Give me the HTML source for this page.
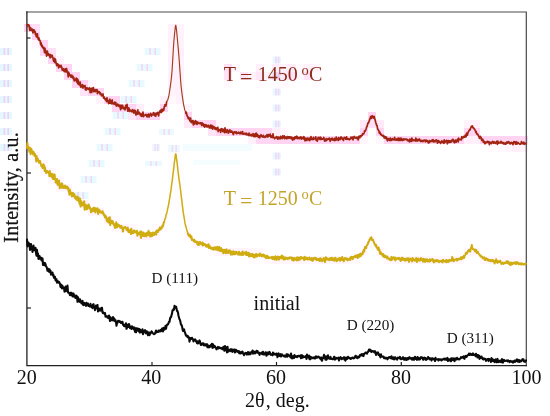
<!DOCTYPE html>
<html><head><meta charset="utf-8"><title>XRD patterns</title>
<style>
html,body{margin:0;padding:0;background:#fff;}
body{width:550px;height:416px;overflow:hidden;}
svg{display:block;}
text{font-family:"Liberation Serif","Times New Roman",serif;fill:#111;}
</style></head><body>
<svg width="550" height="416" viewBox="0 0 550 416">
<rect x="0" y="0" width="550" height="416" fill="#ffffff"/>
<!-- chroma halo -->
<clipPath id="cp"><rect x="27" y="12" width="499.3" height="353.6"/></clipPath>
<g shape-rendering="crispEdges"><rect x="24" y="24" width="8" height="8" fill="#ffd4f2" fill-opacity="1.00"/><rect x="32" y="24" width="8" height="8" fill="#ffd4f2" fill-opacity="0.74"/><rect x="168" y="24" width="8" height="8" fill="#ffd4f2" fill-opacity="0.32"/><rect x="176" y="24" width="8" height="8" fill="#ffd4f2" fill-opacity="0.25"/><rect x="32" y="32" width="8" height="8" fill="#ffd4f2" fill-opacity="1.00"/><rect x="168" y="32" width="8" height="8" fill="#ffd4f2" fill-opacity="0.35"/><rect x="176" y="32" width="8" height="8" fill="#ffd4f2" fill-opacity="0.29"/><rect x="32" y="40" width="8" height="8" fill="#ffd4f2" fill-opacity="0.19"/><rect x="40" y="40" width="8" height="8" fill="#ffd4f2" fill-opacity="1.00"/><rect x="168" y="40" width="8" height="8" fill="#ffd4f2" fill-opacity="0.35"/><rect x="176" y="40" width="8" height="8" fill="#ffd4f2" fill-opacity="0.31"/><rect x="40" y="48" width="8" height="8" fill="#ffd4f2" fill-opacity="1.00"/><rect x="48" y="48" width="8" height="8" fill="#ffd4f2" fill-opacity="0.74"/><rect x="168" y="48" width="8" height="8" fill="#ffd4f2" fill-opacity="0.28"/><rect x="176" y="48" width="8" height="8" fill="#ffd4f2" fill-opacity="0.37"/><rect x="40" y="56" width="8" height="8" fill="#ffd4f2" fill-opacity="0.07"/><rect x="48" y="56" width="8" height="8" fill="#ffd4f2" fill-opacity="1.00"/><rect x="56" y="56" width="8" height="8" fill="#ffd4f2" fill-opacity="0.27"/><rect x="168" y="56" width="8" height="8" fill="#ffd4f2" fill-opacity="0.34"/><rect x="176" y="56" width="8" height="8" fill="#ffd4f2" fill-opacity="0.29"/><rect x="56" y="64" width="8" height="8" fill="#ffd4f2" fill-opacity="1.00"/><rect x="64" y="64" width="8" height="8" fill="#ffd4f2" fill-opacity="1.00"/><rect x="168" y="64" width="8" height="8" fill="#ffd4f2" fill-opacity="0.31"/><rect x="176" y="64" width="8" height="8" fill="#ffd4f2" fill-opacity="0.33"/><rect x="224" y="64" width="8" height="8" fill="#ffd4f2" fill-opacity="0.75"/><rect x="232" y="64" width="8" height="8" fill="#ffd4f2" fill-opacity="0.19"/><rect x="256" y="64" width="8" height="8" fill="#ffd4f2" fill-opacity="0.36"/><rect x="272" y="64" width="8" height="8" fill="#ffd4f2" fill-opacity="0.45"/><rect x="280" y="64" width="8" height="8" fill="#ffd4f2" fill-opacity="0.32"/><rect x="288" y="64" width="8" height="8" fill="#ffd4f2" fill-opacity="0.45"/><rect x="296" y="64" width="8" height="8" fill="#ffd4f2" fill-opacity="0.13"/><rect x="304" y="64" width="8" height="8" fill="#ffd4f2" fill-opacity="0.32"/><rect x="312" y="64" width="8" height="8" fill="#ffd4f2" fill-opacity="0.25"/><rect x="320" y="64" width="8" height="8" fill="#ffd4f2" fill-opacity="0.08"/><rect x="64" y="72" width="8" height="8" fill="#ffd4f2" fill-opacity="1.00"/><rect x="72" y="72" width="8" height="8" fill="#ffd4f2" fill-opacity="1.00"/><rect x="168" y="72" width="8" height="8" fill="#ffd4f2" fill-opacity="0.35"/><rect x="176" y="72" width="8" height="8" fill="#ffd4f2" fill-opacity="0.35"/><rect x="224" y="72" width="8" height="8" fill="#ffd4f2" fill-opacity="0.62"/><rect x="240" y="72" width="8" height="8" fill="#ffd4f2" fill-opacity="0.65"/><rect x="248" y="72" width="8" height="8" fill="#ffd4f2" fill-opacity="0.29"/><rect x="256" y="72" width="8" height="8" fill="#ffd4f2" fill-opacity="0.55"/><rect x="264" y="72" width="8" height="8" fill="#ffd4f2" fill-opacity="0.30"/><rect x="272" y="72" width="8" height="8" fill="#ffd4f2" fill-opacity="0.85"/><rect x="280" y="72" width="8" height="8" fill="#ffd4f2" fill-opacity="0.57"/><rect x="288" y="72" width="8" height="8" fill="#ffd4f2" fill-opacity="0.72"/><rect x="296" y="72" width="8" height="8" fill="#ffd4f2" fill-opacity="0.24"/><rect x="304" y="72" width="8" height="8" fill="#ffd4f2" fill-opacity="0.64"/><rect x="312" y="72" width="8" height="8" fill="#ffd4f2" fill-opacity="0.10"/><rect x="320" y="72" width="8" height="8" fill="#ffd4f2" fill-opacity="0.05"/><rect x="72" y="80" width="8" height="8" fill="#ffd4f2" fill-opacity="1.00"/><rect x="80" y="80" width="8" height="8" fill="#ffd4f2" fill-opacity="1.00"/><rect x="88" y="80" width="8" height="8" fill="#ffd4f2" fill-opacity="0.23"/><rect x="168" y="80" width="8" height="8" fill="#ffd4f2" fill-opacity="0.32"/><rect x="176" y="80" width="8" height="8" fill="#ffd4f2" fill-opacity="0.28"/><rect x="224" y="80" width="8" height="8" fill="#ffd4f2" fill-opacity="0.14"/><rect x="256" y="80" width="8" height="8" fill="#ffd4f2" fill-opacity="0.12"/><rect x="272" y="80" width="8" height="8" fill="#ffd4f2" fill-opacity="0.07"/><rect x="280" y="80" width="8" height="8" fill="#ffd4f2" fill-opacity="0.13"/><rect x="288" y="80" width="8" height="8" fill="#ffd4f2" fill-opacity="0.08"/><rect x="312" y="80" width="8" height="8" fill="#ffd4f2" fill-opacity="0.11"/><rect x="80" y="88" width="8" height="8" fill="#ffd4f2" fill-opacity="0.65"/><rect x="88" y="88" width="8" height="8" fill="#ffd4f2" fill-opacity="1.00"/><rect x="96" y="88" width="8" height="8" fill="#ffd4f2" fill-opacity="1.00"/><rect x="168" y="88" width="8" height="8" fill="#ffd4f2" fill-opacity="0.29"/><rect x="176" y="88" width="8" height="8" fill="#ffd4f2" fill-opacity="0.32"/><rect x="96" y="96" width="8" height="8" fill="#ffd4f2" fill-opacity="0.31"/><rect x="104" y="96" width="8" height="8" fill="#ffd4f2" fill-opacity="1.00"/><rect x="112" y="96" width="8" height="8" fill="#ffd4f2" fill-opacity="0.97"/><rect x="160" y="96" width="8" height="8" fill="#ffd4f2" fill-opacity="0.31"/><rect x="168" y="96" width="8" height="8" fill="#ffd4f2" fill-opacity="0.14"/><rect x="176" y="96" width="8" height="8" fill="#ffd4f2" fill-opacity="0.33"/><rect x="112" y="104" width="8" height="8" fill="#ffd4f2" fill-opacity="1.00"/><rect x="120" y="104" width="8" height="8" fill="#ffd4f2" fill-opacity="1.00"/><rect x="128" y="104" width="8" height="8" fill="#ffd4f2" fill-opacity="1.00"/><rect x="136" y="104" width="8" height="8" fill="#ffd4f2" fill-opacity="0.42"/><rect x="152" y="104" width="8" height="8" fill="#ffd4f2" fill-opacity="0.12"/><rect x="160" y="104" width="8" height="8" fill="#ffd4f2" fill-opacity="1.00"/><rect x="176" y="104" width="8" height="8" fill="#ffd4f2" fill-opacity="0.10"/><rect x="184" y="104" width="8" height="8" fill="#ffd4f2" fill-opacity="0.29"/><rect x="128" y="112" width="8" height="8" fill="#ffd4f2" fill-opacity="0.57"/><rect x="136" y="112" width="8" height="8" fill="#ffd4f2" fill-opacity="1.00"/><rect x="144" y="112" width="8" height="8" fill="#ffd4f2" fill-opacity="1.00"/><rect x="152" y="112" width="8" height="8" fill="#ffd4f2" fill-opacity="1.00"/><rect x="160" y="112" width="8" height="8" fill="#ffd4f2" fill-opacity="0.15"/><rect x="184" y="112" width="8" height="8" fill="#ffd4f2" fill-opacity="1.00"/><rect x="368" y="112" width="8" height="8" fill="#ffd4f2" fill-opacity="1.00"/><rect x="184" y="120" width="8" height="8" fill="#ffd4f2" fill-opacity="0.53"/><rect x="192" y="120" width="8" height="8" fill="#ffd4f2" fill-opacity="1.00"/><rect x="200" y="120" width="8" height="8" fill="#ffd4f2" fill-opacity="1.00"/><rect x="208" y="120" width="8" height="8" fill="#ffd4f2" fill-opacity="1.00"/><rect x="216" y="120" width="8" height="8" fill="#ffd4f2" fill-opacity="0.17"/><rect x="224" y="120" width="8" height="8" fill="#ffd4f2" fill-opacity="0.07"/><rect x="360" y="120" width="8" height="8" fill="#ffd4f2" fill-opacity="0.52"/><rect x="368" y="120" width="8" height="8" fill="#ffd4f2" fill-opacity="0.73"/><rect x="376" y="120" width="8" height="8" fill="#ffd4f2" fill-opacity="0.52"/><rect x="464" y="120" width="8" height="8" fill="#ffd4f2" fill-opacity="0.27"/><rect x="472" y="120" width="8" height="8" fill="#ffd4f2" fill-opacity="0.31"/><rect x="208" y="128" width="8" height="8" fill="#ffd4f2" fill-opacity="0.64"/><rect x="216" y="128" width="8" height="8" fill="#ffd4f2" fill-opacity="1.00"/><rect x="224" y="128" width="8" height="8" fill="#ffd4f2" fill-opacity="1.00"/><rect x="232" y="128" width="8" height="8" fill="#ffd4f2" fill-opacity="1.00"/><rect x="240" y="128" width="8" height="8" fill="#ffd4f2" fill-opacity="1.00"/><rect x="248" y="128" width="8" height="8" fill="#ffd4f2" fill-opacity="1.00"/><rect x="256" y="128" width="8" height="8" fill="#ffd4f2" fill-opacity="0.99"/><rect x="264" y="128" width="8" height="8" fill="#ffd4f2" fill-opacity="0.92"/><rect x="272" y="128" width="8" height="8" fill="#ffd4f2" fill-opacity="0.37"/><rect x="280" y="128" width="8" height="8" fill="#ffd4f2" fill-opacity="0.18"/><rect x="352" y="128" width="8" height="8" fill="#ffd4f2" fill-opacity="0.04"/><rect x="360" y="128" width="8" height="8" fill="#ffd4f2" fill-opacity="1.00"/><rect x="376" y="128" width="8" height="8" fill="#ffd4f2" fill-opacity="1.00"/><rect x="464" y="128" width="8" height="8" fill="#ffd4f2" fill-opacity="1.00"/><rect x="472" y="128" width="8" height="8" fill="#ffd4f2" fill-opacity="1.00"/><rect x="248" y="136" width="8" height="8" fill="#ffd4f2" fill-opacity="0.33"/><rect x="256" y="136" width="8" height="8" fill="#ffd4f2" fill-opacity="0.96"/><rect x="264" y="136" width="8" height="8" fill="#ffd4f2" fill-opacity="0.95"/><rect x="272" y="136" width="8" height="8" fill="#ffd4f2" fill-opacity="1.00"/><rect x="280" y="136" width="8" height="8" fill="#ffd4f2" fill-opacity="1.00"/><rect x="288" y="136" width="8" height="8" fill="#ffd4f2" fill-opacity="1.00"/><rect x="296" y="136" width="8" height="8" fill="#ffd4f2" fill-opacity="1.00"/><rect x="304" y="136" width="8" height="8" fill="#ffd4f2" fill-opacity="1.00"/><rect x="312" y="136" width="8" height="8" fill="#ffd4f2" fill-opacity="1.00"/><rect x="320" y="136" width="8" height="8" fill="#ffd4f2" fill-opacity="1.00"/><rect x="328" y="136" width="8" height="8" fill="#ffd4f2" fill-opacity="1.00"/><rect x="336" y="136" width="8" height="8" fill="#ffd4f2" fill-opacity="1.00"/><rect x="344" y="136" width="8" height="8" fill="#ffd4f2" fill-opacity="1.00"/><rect x="352" y="136" width="8" height="8" fill="#ffd4f2" fill-opacity="1.00"/><rect x="360" y="136" width="8" height="8" fill="#ffd4f2" fill-opacity="0.20"/><rect x="376" y="136" width="8" height="8" fill="#ffd4f2" fill-opacity="0.20"/><rect x="384" y="136" width="8" height="8" fill="#ffd4f2" fill-opacity="1.00"/><rect x="392" y="136" width="8" height="8" fill="#ffd4f2" fill-opacity="1.00"/><rect x="400" y="136" width="8" height="8" fill="#ffd4f2" fill-opacity="1.00"/><rect x="408" y="136" width="8" height="8" fill="#ffd4f2" fill-opacity="1.00"/><rect x="416" y="136" width="8" height="8" fill="#ffd4f2" fill-opacity="1.00"/><rect x="424" y="136" width="8" height="8" fill="#ffd4f2" fill-opacity="1.00"/><rect x="432" y="136" width="8" height="8" fill="#ffd4f2" fill-opacity="1.00"/><rect x="440" y="136" width="8" height="8" fill="#ffd4f2" fill-opacity="1.00"/><rect x="448" y="136" width="8" height="8" fill="#ffd4f2" fill-opacity="1.00"/><rect x="456" y="136" width="8" height="8" fill="#ffd4f2" fill-opacity="1.00"/><rect x="464" y="136" width="8" height="8" fill="#ffd4f2" fill-opacity="0.36"/><rect x="472" y="136" width="8" height="8" fill="#ffd4f2" fill-opacity="0.34"/><rect x="480" y="136" width="8" height="8" fill="#ffd4f2" fill-opacity="1.00"/><rect x="488" y="136" width="8" height="8" fill="#ffd4f2" fill-opacity="1.00"/><rect x="496" y="136" width="8" height="8" fill="#ffd4f2" fill-opacity="1.00"/><rect x="504" y="136" width="8" height="8" fill="#ffd4f2" fill-opacity="1.00"/><rect x="512" y="136" width="8" height="8" fill="#ffd4f2" fill-opacity="1.00"/><rect x="520" y="136" width="8" height="8" fill="#ffd4f2" fill-opacity="0.92"/><rect x="24" y="144" width="8" height="8" fill="#ffd4f2" fill-opacity="0.25"/><rect x="488" y="144" width="8" height="8" fill="#ffd4f2" fill-opacity="0.11"/><rect x="496" y="144" width="8" height="8" fill="#ffd4f2" fill-opacity="0.12"/><rect x="504" y="144" width="8" height="8" fill="#ffd4f2" fill-opacity="0.21"/><rect x="512" y="144" width="8" height="8" fill="#ffd4f2" fill-opacity="0.36"/><rect x="520" y="144" width="8" height="8" fill="#ffd4f2" fill-opacity="0.27"/><rect x="24" y="152" width="8" height="8" fill="#ffd4f2" fill-opacity="0.05"/><rect x="32" y="152" width="8" height="8" fill="#ffd4f2" fill-opacity="0.24"/><rect x="168" y="152" width="8" height="8" fill="#ffd4f2" fill-opacity="0.08"/><rect x="176" y="152" width="8" height="8" fill="#ffd4f2" fill-opacity="0.05"/><rect x="32" y="160" width="8" height="8" fill="#ffd4f2" fill-opacity="0.10"/><rect x="40" y="160" width="8" height="8" fill="#ffd4f2" fill-opacity="0.20"/><rect x="168" y="160" width="8" height="8" fill="#ffd4f2" fill-opacity="0.08"/><rect x="176" y="160" width="8" height="8" fill="#ffd4f2" fill-opacity="0.08"/><rect x="40" y="168" width="8" height="8" fill="#ffd4f2" fill-opacity="0.16"/><rect x="48" y="168" width="8" height="8" fill="#ffd4f2" fill-opacity="0.23"/><rect x="168" y="168" width="8" height="8" fill="#ffd4f2" fill-opacity="0.08"/><rect x="176" y="168" width="8" height="8" fill="#ffd4f2" fill-opacity="0.08"/><rect x="48" y="176" width="8" height="8" fill="#ffd4f2" fill-opacity="0.20"/><rect x="56" y="176" width="8" height="8" fill="#ffd4f2" fill-opacity="0.20"/><rect x="168" y="176" width="8" height="8" fill="#ffd4f2" fill-opacity="0.08"/><rect x="176" y="176" width="8" height="8" fill="#ffd4f2" fill-opacity="0.08"/><rect x="56" y="184" width="8" height="8" fill="#ffd4f2" fill-opacity="0.23"/><rect x="64" y="184" width="8" height="8" fill="#ffd4f2" fill-opacity="0.23"/><rect x="168" y="184" width="8" height="8" fill="#ffd4f2" fill-opacity="0.08"/><rect x="176" y="184" width="8" height="8" fill="#ffd4f2" fill-opacity="0.08"/><rect x="224" y="184" width="8" height="8" fill="#ffd4f2" fill-opacity="0.05"/><rect x="64" y="192" width="8" height="8" fill="#ffd4f2" fill-opacity="0.12"/><rect x="72" y="192" width="8" height="8" fill="#ffd4f2" fill-opacity="0.29"/><rect x="168" y="192" width="8" height="8" fill="#ffd4f2" fill-opacity="0.08"/><rect x="176" y="192" width="8" height="8" fill="#ffd4f2" fill-opacity="0.08"/><rect x="224" y="192" width="8" height="8" fill="#ffd4f2" fill-opacity="0.09"/><rect x="240" y="192" width="8" height="8" fill="#ffd4f2" fill-opacity="0.04"/><rect x="256" y="192" width="8" height="8" fill="#ffd4f2" fill-opacity="0.08"/><rect x="272" y="192" width="8" height="8" fill="#ffd4f2" fill-opacity="0.07"/><rect x="280" y="192" width="8" height="8" fill="#ffd4f2" fill-opacity="0.04"/><rect x="288" y="192" width="8" height="8" fill="#ffd4f2" fill-opacity="0.09"/><rect x="296" y="192" width="8" height="8" fill="#ffd4f2" fill-opacity="0.05"/><rect x="304" y="192" width="8" height="8" fill="#ffd4f2" fill-opacity="0.10"/><rect x="72" y="200" width="8" height="8" fill="#ffd4f2" fill-opacity="0.08"/><rect x="80" y="200" width="8" height="8" fill="#ffd4f2" fill-opacity="0.35"/><rect x="88" y="200" width="8" height="8" fill="#ffd4f2" fill-opacity="0.10"/><rect x="168" y="200" width="8" height="8" fill="#ffd4f2" fill-opacity="0.07"/><rect x="176" y="200" width="8" height="8" fill="#ffd4f2" fill-opacity="0.08"/><rect x="224" y="200" width="8" height="8" fill="#ffd4f2" fill-opacity="0.06"/><rect x="240" y="200" width="8" height="8" fill="#ffd4f2" fill-opacity="0.04"/><rect x="256" y="200" width="8" height="8" fill="#ffd4f2" fill-opacity="0.05"/><rect x="272" y="200" width="8" height="8" fill="#ffd4f2" fill-opacity="0.04"/><rect x="280" y="200" width="8" height="8" fill="#ffd4f2" fill-opacity="0.05"/><rect x="288" y="200" width="8" height="8" fill="#ffd4f2" fill-opacity="0.06"/><rect x="80" y="208" width="8" height="8" fill="#ffd4f2" fill-opacity="0.07"/><rect x="88" y="208" width="8" height="8" fill="#ffd4f2" fill-opacity="0.26"/><rect x="96" y="208" width="8" height="8" fill="#ffd4f2" fill-opacity="0.30"/><rect x="160" y="208" width="8" height="8" fill="#ffd4f2" fill-opacity="0.08"/><rect x="176" y="208" width="8" height="8" fill="#ffd4f2" fill-opacity="0.08"/><rect x="104" y="216" width="8" height="8" fill="#ffd4f2" fill-opacity="0.35"/><rect x="112" y="216" width="8" height="8" fill="#ffd4f2" fill-opacity="0.11"/><rect x="160" y="216" width="8" height="8" fill="#ffd4f2" fill-opacity="0.10"/><rect x="184" y="216" width="8" height="8" fill="#ffd4f2" fill-opacity="0.07"/><rect x="112" y="224" width="8" height="8" fill="#ffd4f2" fill-opacity="0.22"/><rect x="120" y="224" width="8" height="8" fill="#ffd4f2" fill-opacity="0.28"/><rect x="128" y="224" width="8" height="8" fill="#ffd4f2" fill-opacity="0.19"/><rect x="136" y="224" width="8" height="8" fill="#ffd4f2" fill-opacity="0.06"/><rect x="152" y="224" width="8" height="8" fill="#ffd4f2" fill-opacity="0.11"/><rect x="160" y="224" width="8" height="8" fill="#ffd4f2" fill-opacity="0.12"/><rect x="184" y="224" width="8" height="8" fill="#ffd4f2" fill-opacity="0.08"/><rect x="128" y="232" width="8" height="8" fill="#ffd4f2" fill-opacity="0.12"/><rect x="136" y="232" width="8" height="8" fill="#ffd4f2" fill-opacity="0.33"/><rect x="144" y="232" width="8" height="8" fill="#ffd4f2" fill-opacity="0.31"/><rect x="152" y="232" width="8" height="8" fill="#ffd4f2" fill-opacity="0.18"/><rect x="184" y="232" width="8" height="8" fill="#ffd4f2" fill-opacity="0.16"/><rect x="368" y="232" width="8" height="8" fill="#ffd4f2" fill-opacity="0.10"/><rect x="192" y="240" width="8" height="8" fill="#ffd4f2" fill-opacity="0.21"/><rect x="200" y="240" width="8" height="8" fill="#ffd4f2" fill-opacity="0.24"/><rect x="208" y="240" width="8" height="8" fill="#ffd4f2" fill-opacity="0.14"/><rect x="216" y="240" width="8" height="8" fill="#ffd4f2" fill-opacity="0.07"/><rect x="360" y="240" width="8" height="8" fill="#ffd4f2" fill-opacity="0.10"/><rect x="368" y="240" width="8" height="8" fill="#ffd4f2" fill-opacity="0.17"/><rect x="376" y="240" width="8" height="8" fill="#ffd4f2" fill-opacity="0.06"/><rect x="464" y="240" width="8" height="8" fill="#ffd4f2" fill-opacity="0.04"/><rect x="208" y="248" width="8" height="8" fill="#ffd4f2" fill-opacity="0.12"/><rect x="216" y="248" width="8" height="8" fill="#ffd4f2" fill-opacity="0.25"/><rect x="224" y="248" width="8" height="8" fill="#ffd4f2" fill-opacity="0.31"/><rect x="232" y="248" width="8" height="8" fill="#ffd4f2" fill-opacity="0.28"/><rect x="240" y="248" width="8" height="8" fill="#ffd4f2" fill-opacity="0.28"/><rect x="248" y="248" width="8" height="8" fill="#ffd4f2" fill-opacity="0.20"/><rect x="256" y="248" width="8" height="8" fill="#ffd4f2" fill-opacity="0.17"/><rect x="352" y="248" width="8" height="8" fill="#ffd4f2" fill-opacity="0.08"/><rect x="360" y="248" width="8" height="8" fill="#ffd4f2" fill-opacity="0.19"/><rect x="376" y="248" width="8" height="8" fill="#ffd4f2" fill-opacity="0.22"/><rect x="464" y="248" width="8" height="8" fill="#ffd4f2" fill-opacity="0.21"/><rect x="472" y="248" width="8" height="8" fill="#ffd4f2" fill-opacity="0.21"/><rect x="248" y="256" width="8" height="8" fill="#ffd4f2" fill-opacity="0.09"/><rect x="256" y="256" width="8" height="8" fill="#ffd4f2" fill-opacity="0.06"/><rect x="264" y="256" width="8" height="8" fill="#ffd4f2" fill-opacity="0.17"/><rect x="272" y="256" width="8" height="8" fill="#ffd4f2" fill-opacity="0.28"/><rect x="280" y="256" width="8" height="8" fill="#ffd4f2" fill-opacity="0.22"/><rect x="288" y="256" width="8" height="8" fill="#ffd4f2" fill-opacity="0.22"/><rect x="296" y="256" width="8" height="8" fill="#ffd4f2" fill-opacity="0.25"/><rect x="304" y="256" width="8" height="8" fill="#ffd4f2" fill-opacity="0.24"/><rect x="312" y="256" width="8" height="8" fill="#ffd4f2" fill-opacity="0.24"/><rect x="320" y="256" width="8" height="8" fill="#ffd4f2" fill-opacity="0.28"/><rect x="328" y="256" width="8" height="8" fill="#ffd4f2" fill-opacity="0.25"/><rect x="336" y="256" width="8" height="8" fill="#ffd4f2" fill-opacity="0.28"/><rect x="344" y="256" width="8" height="8" fill="#ffd4f2" fill-opacity="0.23"/><rect x="352" y="256" width="8" height="8" fill="#ffd4f2" fill-opacity="0.17"/><rect x="384" y="256" width="8" height="8" fill="#ffd4f2" fill-opacity="0.21"/><rect x="392" y="256" width="8" height="8" fill="#ffd4f2" fill-opacity="0.22"/><rect x="400" y="256" width="8" height="8" fill="#ffd4f2" fill-opacity="0.24"/><rect x="408" y="256" width="8" height="8" fill="#ffd4f2" fill-opacity="0.26"/><rect x="416" y="256" width="8" height="8" fill="#ffd4f2" fill-opacity="0.28"/><rect x="424" y="256" width="8" height="8" fill="#ffd4f2" fill-opacity="0.24"/><rect x="432" y="256" width="8" height="8" fill="#ffd4f2" fill-opacity="0.21"/><rect x="440" y="256" width="8" height="8" fill="#ffd4f2" fill-opacity="0.21"/><rect x="448" y="256" width="8" height="8" fill="#ffd4f2" fill-opacity="0.23"/><rect x="456" y="256" width="8" height="8" fill="#ffd4f2" fill-opacity="0.21"/><rect x="480" y="256" width="8" height="8" fill="#ffd4f2" fill-opacity="0.19"/><rect x="488" y="256" width="8" height="8" fill="#ffd4f2" fill-opacity="0.22"/><rect x="496" y="256" width="8" height="8" fill="#ffd4f2" fill-opacity="0.21"/><rect x="504" y="256" width="8" height="8" fill="#ffd4f2" fill-opacity="0.17"/><rect x="512" y="256" width="8" height="8" fill="#ffd4f2" fill-opacity="0.15"/><rect x="520" y="256" width="8" height="8" fill="#ffd4f2" fill-opacity="0.06"/><rect x="504" y="264" width="8" height="8" fill="#ffd4f2" fill-opacity="0.05"/><rect x="512" y="264" width="8" height="8" fill="#ffd4f2" fill-opacity="0.05"/><rect x="520" y="264" width="8" height="8" fill="#ffd4f2" fill-opacity="0.06"/></g>
<!-- faint compression artefacts -->
<g><rect x="0.0" y="48.0" width="12.0" height="7.0" fill="#c4f1ff" fill-opacity="0.45"/><rect x="3.6" y="48.0" width="1.6" height="7.0" fill="#ff9fe0" fill-opacity="0.45"/><rect x="7.4" y="48.0" width="1.6" height="7.0" fill="#ff9fe0" fill-opacity="0.45"/><rect x="0.0" y="64.0" width="12.0" height="7.0" fill="#c4f1ff" fill-opacity="0.45"/><rect x="3.6" y="64.0" width="1.6" height="7.0" fill="#ff9fe0" fill-opacity="0.45"/><rect x="7.4" y="64.0" width="1.6" height="7.0" fill="#ff9fe0" fill-opacity="0.45"/><rect x="0.0" y="80.0" width="12.0" height="7.0" fill="#c4f1ff" fill-opacity="0.45"/><rect x="3.6" y="80.0" width="1.6" height="7.0" fill="#ff9fe0" fill-opacity="0.45"/><rect x="7.4" y="80.0" width="1.6" height="7.0" fill="#ff9fe0" fill-opacity="0.45"/><rect x="0.0" y="96.0" width="12.0" height="7.0" fill="#c4f1ff" fill-opacity="0.45"/><rect x="3.6" y="96.0" width="1.6" height="7.0" fill="#ff9fe0" fill-opacity="0.45"/><rect x="7.4" y="96.0" width="1.6" height="7.0" fill="#ff9fe0" fill-opacity="0.45"/><rect x="0.0" y="112.0" width="12.0" height="7.0" fill="#c4f1ff" fill-opacity="0.45"/><rect x="3.6" y="112.0" width="1.6" height="7.0" fill="#ff9fe0" fill-opacity="0.45"/><rect x="7.4" y="112.0" width="1.6" height="7.0" fill="#ff9fe0" fill-opacity="0.45"/><rect x="0.0" y="128.0" width="12.0" height="7.0" fill="#c4f1ff" fill-opacity="0.45"/><rect x="3.6" y="128.0" width="1.6" height="7.0" fill="#ff9fe0" fill-opacity="0.45"/><rect x="7.4" y="128.0" width="1.6" height="7.0" fill="#ff9fe0" fill-opacity="0.45"/><rect x="0.0" y="144.0" width="12.0" height="7.0" fill="#c4f1ff" fill-opacity="0.45"/><rect x="3.6" y="144.0" width="1.6" height="7.0" fill="#ff9fe0" fill-opacity="0.45"/><rect x="7.4" y="144.0" width="1.6" height="7.0" fill="#ff9fe0" fill-opacity="0.45"/><rect x="144.5" y="48.0" width="16.0" height="7.0" fill="#c4f1ff" fill-opacity="0.39"/><rect x="149.3" y="48.0" width="1.6" height="7.0" fill="#ff9fe0" fill-opacity="0.39"/><rect x="154.4" y="48.0" width="1.6" height="7.0" fill="#ff9fe0" fill-opacity="0.39"/><rect x="136.5" y="64.0" width="16.0" height="7.0" fill="#c4f1ff" fill-opacity="0.39"/><rect x="141.3" y="64.0" width="1.6" height="7.0" fill="#ff9fe0" fill-opacity="0.39"/><rect x="146.4" y="64.0" width="1.6" height="7.0" fill="#ff9fe0" fill-opacity="0.39"/><rect x="128.5" y="80.0" width="16.0" height="7.0" fill="#c4f1ff" fill-opacity="0.39"/><rect x="133.3" y="80.0" width="1.6" height="7.0" fill="#ff9fe0" fill-opacity="0.39"/><rect x="138.4" y="80.0" width="1.6" height="7.0" fill="#ff9fe0" fill-opacity="0.39"/><rect x="120.5" y="96.0" width="16.0" height="7.0" fill="#c4f1ff" fill-opacity="0.39"/><rect x="125.3" y="96.0" width="1.6" height="7.0" fill="#ff9fe0" fill-opacity="0.39"/><rect x="130.4" y="96.0" width="1.6" height="7.0" fill="#ff9fe0" fill-opacity="0.39"/><rect x="112.5" y="112.0" width="16.0" height="7.0" fill="#c4f1ff" fill-opacity="0.39"/><rect x="117.3" y="112.0" width="1.6" height="7.0" fill="#ff9fe0" fill-opacity="0.39"/><rect x="122.4" y="112.0" width="1.6" height="7.0" fill="#ff9fe0" fill-opacity="0.39"/><rect x="104.5" y="128.0" width="16.0" height="7.0" fill="#c4f1ff" fill-opacity="0.39"/><rect x="109.3" y="128.0" width="1.6" height="7.0" fill="#ff9fe0" fill-opacity="0.39"/><rect x="114.4" y="128.0" width="1.6" height="7.0" fill="#ff9fe0" fill-opacity="0.39"/><rect x="96.5" y="144.0" width="16.0" height="7.0" fill="#c4f1ff" fill-opacity="0.39"/><rect x="101.3" y="144.0" width="1.6" height="7.0" fill="#ff9fe0" fill-opacity="0.39"/><rect x="106.4" y="144.0" width="1.6" height="7.0" fill="#ff9fe0" fill-opacity="0.39"/><rect x="88.5" y="160.0" width="16.0" height="7.0" fill="#c4f1ff" fill-opacity="0.39"/><rect x="93.3" y="160.0" width="1.6" height="7.0" fill="#ff9fe0" fill-opacity="0.39"/><rect x="98.4" y="160.0" width="1.6" height="7.0" fill="#ff9fe0" fill-opacity="0.39"/><rect x="80.5" y="176.0" width="16.0" height="7.0" fill="#c4f1ff" fill-opacity="0.39"/><rect x="85.3" y="176.0" width="1.6" height="7.0" fill="#ff9fe0" fill-opacity="0.39"/><rect x="90.4" y="176.0" width="1.6" height="7.0" fill="#ff9fe0" fill-opacity="0.39"/><rect x="72.5" y="192.0" width="16.0" height="7.0" fill="#c4f1ff" fill-opacity="0.39"/><rect x="77.3" y="192.0" width="1.6" height="7.0" fill="#ff9fe0" fill-opacity="0.39"/><rect x="82.4" y="192.0" width="1.6" height="7.0" fill="#ff9fe0" fill-opacity="0.39"/><rect x="159.0" y="129.0" width="15.0" height="6.0" fill="#c4f1ff" fill-opacity="0.33"/><rect x="163.5" y="129.0" width="1.6" height="6.0" fill="#ff9fe0" fill-opacity="0.33"/><rect x="168.3" y="129.0" width="1.6" height="6.0" fill="#ff9fe0" fill-opacity="0.33"/><rect x="152.0" y="144.0" width="8.0" height="7.0" fill="#c4f1ff" fill-opacity="0.33"/><rect x="154.4" y="144.0" width="1.6" height="7.0" fill="#ff9fe0" fill-opacity="0.33"/><rect x="157.0" y="144.0" width="1.6" height="7.0" fill="#ff9fe0" fill-opacity="0.33"/><rect x="168.0" y="145.0" width="12.0" height="7.0" fill="#c4f1ff" fill-opacity="0.33"/><rect x="171.6" y="145.0" width="1.6" height="7.0" fill="#ff9fe0" fill-opacity="0.33"/><rect x="175.4" y="145.0" width="1.6" height="7.0" fill="#ff9fe0" fill-opacity="0.33"/><rect x="145.0" y="161.0" width="17.0" height="5.0" fill="#c4f1ff" fill-opacity="0.33"/><rect x="150.1" y="161.0" width="1.6" height="5.0" fill="#ff9fe0" fill-opacity="0.33"/><rect x="155.5" y="161.0" width="1.6" height="5.0" fill="#ff9fe0" fill-opacity="0.33"/><rect x="272.5" y="56.5" width="8.5" height="7.0" fill="#c4f1ff" fill-opacity="0.39"/><rect x="275.1" y="56.5" width="1.6" height="7.0" fill="#ff9fe0" fill-opacity="0.39"/><rect x="277.8" y="56.5" width="1.6" height="7.0" fill="#ff9fe0" fill-opacity="0.39"/><rect x="272.5" y="72.5" width="8.5" height="7.0" fill="#c4f1ff" fill-opacity="0.39"/><rect x="275.1" y="72.5" width="1.6" height="7.0" fill="#ff9fe0" fill-opacity="0.39"/><rect x="277.8" y="72.5" width="1.6" height="7.0" fill="#ff9fe0" fill-opacity="0.39"/><rect x="272.5" y="88.5" width="8.5" height="7.0" fill="#c4f1ff" fill-opacity="0.39"/><rect x="275.1" y="88.5" width="1.6" height="7.0" fill="#ff9fe0" fill-opacity="0.39"/><rect x="277.8" y="88.5" width="1.6" height="7.0" fill="#ff9fe0" fill-opacity="0.39"/><rect x="272.5" y="104.5" width="8.5" height="7.0" fill="#c4f1ff" fill-opacity="0.39"/><rect x="275.1" y="104.5" width="1.6" height="7.0" fill="#ff9fe0" fill-opacity="0.39"/><rect x="277.8" y="104.5" width="1.6" height="7.0" fill="#ff9fe0" fill-opacity="0.39"/><rect x="272.5" y="120.5" width="8.5" height="7.0" fill="#c4f1ff" fill-opacity="0.39"/><rect x="275.1" y="120.5" width="1.6" height="7.0" fill="#ff9fe0" fill-opacity="0.39"/><rect x="277.8" y="120.5" width="1.6" height="7.0" fill="#ff9fe0" fill-opacity="0.39"/><rect x="272.5" y="152.5" width="8.5" height="7.0" fill="#c4f1ff" fill-opacity="0.39"/><rect x="275.1" y="152.5" width="1.6" height="7.0" fill="#ff9fe0" fill-opacity="0.39"/><rect x="277.8" y="152.5" width="1.6" height="7.0" fill="#ff9fe0" fill-opacity="0.39"/><rect x="272.5" y="168.5" width="8.5" height="7.0" fill="#c4f1ff" fill-opacity="0.39"/><rect x="275.1" y="168.5" width="1.6" height="7.0" fill="#ff9fe0" fill-opacity="0.39"/><rect x="277.8" y="168.5" width="1.6" height="7.0" fill="#ff9fe0" fill-opacity="0.39"/><rect x="183.0" y="144.0" width="69.0" height="7.0" fill="#c4f1ff" fill-opacity="0.2"/><rect x="193.0" y="160.0" width="47.0" height="5.0" fill="#c4f1ff" fill-opacity="0.16"/></g>
<!-- frame -->
<g fill="none" stroke-linecap="square">
<polyline points="26.9,12 526.3,12 526.3,365.6" stroke="#4a4a4a" stroke-width="1.2"/>
<polyline points="26.9,12 26.9,365.6 526.3,365.6" stroke="#222222" stroke-width="1.3"/>
</g>
<!-- ticks -->
<g stroke="#1a1a1a" stroke-width="1.15">
<line x1="27" y1="38" x2="30.5" y2="38"/>
<line x1="27" y1="173" x2="31" y2="173"/>
<line x1="27" y1="308" x2="31" y2="308"/>
<line x1="152" y1="365.6" x2="152" y2="362"/>
<line x1="276.5" y1="365.6" x2="276.5" y2="362"/>
<line x1="401.3" y1="365.6" x2="401.3" y2="362"/>
</g>
<!-- curves -->
<g fill="none" stroke-linejoin="round" stroke-linecap="round">
<g stroke="#a02410"><polyline points="27.0,25.0 27.4,25.9 27.8,25.3 28.2,24.6 28.6,25.8 29.0,25.2 29.4,27.6 29.8,30.3 30.2,27.5 30.6,27.7 31.0,30.1 31.4,30.4 31.8,30.4 32.2,29.1 32.6,31.2 33.0,32.9 33.4,29.9 33.8,32.0 34.2,30.0 34.6,31.6 35.0,31.3 35.4,34.5 35.8,33.4 36.2,36.5 36.6,36.9 37.0,36.9 37.4,33.8 37.8,37.6 38.2,39.0 38.6,39.9 39.0,38.0 39.4,40.3 39.8,40.1 40.2,41.1 40.6,44.6 41.0,42.6 41.4,44.5 41.8,46.6 42.2,45.4 42.6,46.8 43.0,47.9 43.4,48.6 43.8,47.4 44.2,50.0 44.6,52.7 45.0,48.4 45.4,52.9 45.8,52.1 46.2,51.1 46.6,56.1 47.0,54.3 47.4,51.1 47.8,53.7 48.2,54.9 48.6,53.8 49.0,55.6 49.4,54.6 49.8,56.2 50.2,57.8 50.6,54.5 51.0,56.3 51.4,55.6 51.8,57.0 52.2,55.3 52.6,56.9 53.0,58.1 53.4,60.3 53.8,61.4 54.2,58.4 54.6,59.8 55.0,62.6 55.4,59.2 55.8,62.0 56.2,63.1 56.6,65.7 57.0,65.2 57.4,63.8 57.8,64.1 58.2,64.6 58.6,67.9 59.0,65.0 59.4,65.5 59.8,66.9 60.2,66.4 60.6,66.6 61.0,65.3 61.4,67.5 61.8,67.1 62.2,70.1 62.6,69.6 63.0,68.8 63.4,70.3 63.8,69.0 64.2,71.6 64.6,70.2 65.0,71.5 65.4,68.8 65.8,71.8 66.2,68.8 66.6,68.6 67.0,71.8 67.4,71.2 67.8,73.3 68.2,77.0 68.6,72.4 69.0,73.1 69.4,74.8 69.8,75.6 70.2,74.9 70.6,75.3 71.0,77.1 71.4,77.2 71.8,75.2 72.2,77.1 72.6,77.7 73.0,76.4 73.4,78.9 73.8,77.6 74.2,80.8 74.6,80.0 75.0,80.2 75.4,79.5 75.8,80.6 76.2,78.0 76.6,79.7 77.0,82.4 77.4,78.9 77.8,83.8 78.2,80.1 78.6,84.4 79.0,82.2 79.4,85.0 79.8,84.3 80.2,82.0 80.6,86.7 81.0,87.3 81.4,85.2 81.8,85.1 82.2,85.6 82.6,84.6 83.0,88.1 83.4,85.8 83.8,86.8 84.2,85.9 84.6,86.4 85.0,85.6 85.4,89.8 85.8,87.9 86.2,89.9 86.6,88.6 87.0,87.7 87.4,88.5 87.8,88.3 88.2,89.4 88.6,89.0 89.0,89.3 89.4,87.7 89.8,88.7 90.2,92.7 90.6,89.0 91.0,88.5 91.4,90.7 91.8,92.5 92.2,88.0 92.6,90.0 93.0,89.4 93.4,87.6 93.8,91.6 94.2,90.5 94.6,90.7 95.0,89.6 95.4,91.6 95.8,90.1 96.2,90.9 96.6,89.6 97.0,89.6 97.4,93.7 97.8,91.0 98.2,92.5 98.6,92.2 99.0,91.8 99.4,91.9 99.8,93.8 100.2,92.7 100.6,93.2 101.0,93.8 101.4,95.8 101.8,95.5 102.2,95.5 102.6,94.6 103.0,94.0 103.4,97.6 103.8,98.1 104.2,97.1 104.6,98.4 105.0,99.2 105.4,99.7 105.8,100.2 106.2,98.5 106.6,101.6 107.0,97.9 107.4,101.3 107.8,101.0 108.2,101.9 108.6,103.6 109.0,103.3 109.4,99.7 109.8,99.2 110.2,103.1 110.6,100.7 111.0,102.4 111.4,103.8 111.8,100.5 112.2,100.0 112.6,103.7 113.0,103.6 113.4,103.4 113.8,104.0 114.2,102.9 114.6,102.2 115.0,104.3 115.4,103.3 115.8,102.5 116.2,105.8 116.6,105.2 117.0,106.0 117.4,104.2 117.8,104.8 118.2,104.5 118.6,104.8 119.0,106.5 119.4,105.3 119.8,107.0 120.2,107.2 120.6,109.7 121.0,105.0 121.4,108.4 121.8,107.1 122.2,107.3 122.6,105.4 123.0,107.0 123.4,108.8 123.8,107.8 124.2,108.1 124.6,107.7 125.0,109.9 125.4,108.4 125.8,105.4 126.2,107.7 126.6,106.0 127.0,104.4 127.4,108.3 127.8,111.1 128.2,109.4 128.6,107.8 129.0,108.3 129.4,111.4 129.8,110.1 130.2,110.1 130.6,110.2 131.0,110.5 131.4,111.7 131.8,111.5 132.2,111.2 132.6,109.7 133.0,112.0 133.4,110.6 133.8,113.2 134.2,110.2 134.6,111.9 135.0,112.3 135.4,110.6 135.8,115.0 136.2,114.8 136.6,112.3 137.0,114.2 137.4,113.8 137.8,109.9 138.2,113.9 138.6,113.6 139.0,113.9 139.4,112.4 139.8,113.6 140.2,113.8 140.6,115.7 141.0,114.6 141.4,114.2 141.8,116.4 142.2,113.6 142.6,113.9 143.0,112.0 143.4,116.6 143.8,115.9 144.2,115.8 144.6,115.6 145.0,114.8 145.4,115.0 145.8,114.4 146.2,114.5 146.6,114.9 147.0,116.9 147.4,115.7 147.8,114.9 148.2,114.2 148.6,114.1 149.0,117.1 149.4,115.7 149.8,115.1 150.2,114.5 150.6,113.5 151.0,114.9 151.4,116.1 151.8,114.4 152.2,114.6 152.6,114.5 153.0,114.9 153.4,112.6 153.8,114.3 154.2,113.4 154.6,115.6 155.0,113.3 155.4,115.0 155.8,116.2 156.2,113.6 156.6,113.1 157.0,114.1 157.4,113.7 157.8,112.3 158.2,114.0 158.6,115.8 159.0,112.7 159.4,112.5 159.8,111.2 160.2,112.5 160.6,110.2 161.0,110.0 161.4,112.4 161.8,109.4 162.2,111.2 162.6,111.3 163.0,109.3 163.4,109.1 163.8,110.1 164.2,107.1 164.6,106.1 165.0,104.7 165.4,105.4 165.8,106.0 166.2,104.6 166.6,102.0" stroke-width="1.7"/><polyline points="166.6,102.0 167.0,101.1 167.4,100.3 167.8,99.8 168.2,98.2 168.6,97.0 169.0,95.0 169.4,92.5 169.8,90.0 170.2,87.2 170.6,84.2 171.0,81.2 171.4,77.8 171.8,73.6 172.2,68.7 172.6,61.9 173.0,55.0 173.4,48.3 173.8,42.5 174.2,37.9 174.6,33.6 175.0,30.0 175.4,26.1 175.8,25.2 176.2,27.5 176.6,30.9 177.0,34.9 177.4,39.2 177.8,43.6 178.2,47.9 178.6,52.6 179.0,57.5 179.4,62.9 179.8,68.6 180.2,74.2 180.6,80.2 181.0,85.1 181.4,89.0 181.8,92.0 182.2,95.3 182.6,98.0 183.0,100.8 183.4,103.6 183.8,105.6 184.2,107.0 184.6,109.7 185.0,110.3 185.4,111.7 185.8,113.4" stroke="#a23c1c" stroke-width="1.15"/><polyline points="185.8,113.4 186.2,112.0 186.6,113.7 187.0,115.4 187.4,116.4 187.8,116.5 188.2,118.6 188.6,118.5 189.0,117.7 189.4,118.4 189.8,120.8 190.2,120.7 190.6,118.2 191.0,122.2 191.4,121.6 191.8,122.7 192.2,120.9 192.6,121.2 193.0,120.4 193.4,124.9 193.8,121.8 194.2,124.1 194.6,121.6 195.0,122.7 195.4,120.6 195.8,122.3 196.2,124.0 196.6,121.5 197.0,124.4 197.4,123.6 197.8,122.1 198.2,122.8 198.6,123.0 199.0,123.6 199.4,123.2 199.8,123.0 200.2,123.7 200.6,123.0 201.0,122.8 201.4,124.4 201.8,125.6 202.2,122.9 202.6,124.8 203.0,124.2 203.4,123.9 203.8,126.2 204.2,124.7 204.6,127.2 205.0,124.6 205.4,126.1 205.8,125.5 206.2,125.0 206.6,126.7 207.0,125.9 207.4,126.9 207.8,126.3 208.2,125.2 208.6,126.5 209.0,126.8 209.4,127.9 209.8,125.9 210.2,127.0 210.6,125.2 211.0,128.1 211.4,126.2 211.8,125.5 212.2,127.6 212.6,129.1 213.0,126.2 213.4,126.8 213.8,127.3 214.2,127.0 214.6,128.9 215.0,127.6 215.4,127.9 215.8,129.5 216.2,128.1 216.6,129.6 217.0,128.1 217.4,127.9 217.8,127.3 218.2,131.7 218.6,129.3 219.0,130.0 219.4,129.8 219.8,130.1 220.2,130.1 220.6,132.3 221.0,129.1 221.4,128.6 221.8,129.3 222.2,129.0 222.6,131.4 223.0,131.6 223.4,129.7 223.8,129.3 224.2,130.5 224.6,132.6 225.0,127.9 225.4,131.8 225.8,130.0 226.2,132.5 226.6,130.2 227.0,131.1 227.4,129.8 227.8,130.5 228.2,133.2 228.6,132.7 229.0,131.4 229.4,130.9 229.8,129.8 230.2,131.6 230.6,132.1 231.0,132.1 231.4,132.1 231.8,131.0 232.2,132.3 232.6,132.4 233.0,133.9 233.4,134.6 233.8,132.4 234.2,131.8 234.6,132.6 235.0,132.1 235.4,132.0 235.8,132.8 236.2,131.8 236.6,133.7 237.0,132.9 237.4,133.4 237.8,133.0 238.2,132.4 238.6,132.2 239.0,133.1 239.4,132.8 239.8,133.7 240.2,133.5 240.6,132.1 241.0,133.7 241.4,132.2 241.8,133.1 242.2,133.5 242.6,131.6 243.0,134.1 243.4,134.2 243.8,133.9 244.2,133.7 244.6,133.8 245.0,133.2 245.4,134.1 245.8,133.8 246.2,134.6 246.6,133.2 247.0,134.9 247.4,134.8 247.8,134.6 248.2,134.3 248.6,135.4 249.0,133.1 249.4,135.4 249.8,135.2 250.2,135.3 250.6,135.5 251.0,134.4 251.4,134.9 251.8,135.9 252.2,135.7 252.6,135.5 253.0,133.7 253.4,136.0 253.8,136.7 254.2,136.6 254.6,135.8 255.0,133.9 255.4,136.6 255.8,135.5 256.2,133.0 256.6,136.1 257.0,134.2 257.4,134.4 257.8,135.1 258.2,137.2 258.6,135.5 259.0,136.2 259.4,137.8 259.8,137.7 260.2,135.9 260.6,135.8 261.0,134.7 261.4,135.3 261.8,136.6 262.2,136.6 262.6,136.3 263.0,137.2 263.4,135.4 263.8,136.1 264.2,137.0 264.6,136.9 265.0,137.4 265.4,136.7 265.8,136.0 266.2,136.7 266.6,135.3 267.0,134.6 267.4,137.0 267.8,136.3 268.2,136.7 268.6,134.6 269.0,136.1 269.4,135.8 269.8,135.6 270.2,134.1 270.6,136.2 271.0,137.5 271.4,137.0 271.8,136.0 272.2,136.6 272.6,137.5 273.0,133.8 273.4,136.6 273.8,137.4 274.2,137.6 274.6,138.7 275.0,138.1 275.4,137.3 275.8,137.3 276.2,137.8 276.6,136.5 277.0,137.0 277.4,138.1 277.8,139.2 278.2,137.0 278.6,137.2 279.0,137.4 279.4,138.7 279.8,137.3 280.2,138.8 280.6,136.3 281.0,137.2 281.4,137.2 281.8,138.2 282.2,138.5 282.6,135.8 283.0,136.5 283.4,137.8 283.8,136.8 284.2,135.9 284.6,138.6 285.0,138.0 285.4,138.0 285.8,137.0 286.2,138.6 286.6,137.3 287.0,138.7 287.4,136.6 287.8,136.7 288.2,137.8 288.6,136.9 289.0,138.3 289.4,137.9 289.8,136.7 290.2,137.7 290.6,137.3 291.0,138.6 291.4,137.1 291.8,137.3 292.2,139.0 292.6,140.0 293.0,139.8 293.4,137.8 293.8,138.0 294.2,139.4 294.6,137.7 295.0,136.8 295.4,137.9 295.8,138.3 296.2,137.0 296.6,136.2 297.0,136.4 297.4,138.6 297.8,137.1 298.2,137.8 298.6,138.2 299.0,138.6 299.4,137.6 299.8,138.5 300.2,137.1 300.6,137.7 301.0,137.0 301.4,139.2 301.8,138.1 302.2,137.4 302.6,137.8 303.0,137.9 303.4,138.9 303.8,136.6 304.2,137.2 304.6,137.9 305.0,140.9 305.4,139.3 305.8,138.3 306.2,139.1 306.6,140.5 307.0,138.2 307.4,138.1 307.8,139.8 308.2,139.1 308.6,139.3 309.0,138.1 309.4,140.6 309.8,140.4 310.2,139.3 310.6,139.4 311.0,136.7 311.4,139.5 311.8,138.7 312.2,139.3 312.6,139.6 313.0,138.6 313.4,137.3 313.8,139.4 314.2,138.3 314.6,138.7 315.0,138.4 315.4,138.7 315.8,136.8 316.2,140.3 316.6,139.4 317.0,140.3 317.4,141.1 317.8,139.2 318.2,137.4 318.6,138.3 319.0,138.0 319.4,138.7 319.8,139.3 320.2,137.2 320.6,139.5 321.0,137.7 321.4,139.5 321.8,139.1 322.2,138.9 322.6,139.1 323.0,138.7 323.4,138.6 323.8,137.5 324.2,139.2 324.6,141.0 325.0,141.2 325.4,140.5 325.8,139.9 326.2,138.5 326.6,140.6 327.0,139.1 327.4,139.1 327.8,138.9 328.2,139.3 328.6,138.7 329.0,139.1 329.4,138.1 329.8,138.8 330.2,141.4 330.6,139.1 331.0,138.9 331.4,139.7 331.8,139.8 332.2,138.0 332.6,138.9 333.0,140.0 333.4,139.4 333.8,139.2 334.2,140.6 334.6,138.4 335.0,139.2 335.4,138.6 335.8,140.5 336.2,137.1 336.6,138.4 337.0,138.5 337.4,139.7 337.8,139.6 338.2,140.4 338.6,137.5 339.0,139.8 339.4,138.7 339.8,138.4 340.2,139.5 340.6,138.1 341.0,137.0 341.4,138.6 341.8,137.5 342.2,138.3 342.6,139.3 343.0,139.2 343.4,140.5 343.8,138.7 344.2,137.4 344.6,138.1 345.0,138.0 345.4,137.6 345.8,139.2 346.2,138.2 346.6,136.9 347.0,139.4 347.4,138.6 347.8,139.1 348.2,138.8 348.6,139.3 349.0,138.7 349.4,139.8 349.8,139.0 350.2,138.9 350.6,138.9 351.0,137.1 351.4,138.3 351.8,138.2 352.2,138.6 352.6,137.0 353.0,139.9 353.4,138.4 353.8,137.1 354.2,136.5 354.6,137.9 355.0,138.0 355.4,137.4 355.8,138.1 356.2,137.4 356.6,138.4 357.0,137.2 357.4,137.7 357.8,138.6 358.2,140.0 358.6,136.5 359.0,136.9 359.4,136.4 359.8,137.8 360.2,135.8 360.6,136.3 361.0,136.5 361.4,135.4 361.8,135.2 362.2,135.4 362.6,133.7 363.0,133.8 363.4,134.0 363.8,133.8 364.2,132.7 364.6,130.8 365.0,130.9 365.4,130.9 365.8,129.8 366.2,128.5 366.6,127.0 367.0,126.8 367.4,125.0 367.8,123.5 368.2,122.6 368.6,122.9 369.0,121.1 369.4,120.8 369.8,118.7 370.2,118.6 370.6,116.7 371.0,116.3 371.4,118.4 371.8,116.7 372.2,115.7 372.6,116.2 373.0,116.9 373.4,118.0 373.8,116.9 374.2,116.4 374.6,118.3 375.0,119.6 375.4,120.9 375.8,122.8 376.2,123.7 376.6,125.3 377.0,125.4 377.4,127.6 377.8,129.4 378.2,129.7 378.6,130.4 379.0,131.3 379.4,133.3 379.8,132.0 380.2,133.2 380.6,134.2 381.0,134.9 381.4,134.3 381.8,135.4 382.2,135.3 382.6,136.0 383.0,136.1 383.4,135.5 383.8,136.8 384.2,137.9 384.6,136.4 385.0,137.3 385.4,138.3 385.8,136.9 386.2,138.3 386.6,137.3 387.0,139.5 387.4,140.8 387.8,140.6 388.2,138.7 388.6,139.7 389.0,139.2 389.4,139.2 389.8,140.6 390.2,138.0 390.6,140.2 391.0,139.2 391.4,140.5 391.8,139.4 392.2,138.6 392.6,139.5 393.0,139.9 393.4,139.3 393.8,139.7 394.2,138.8 394.6,137.3 395.0,140.1 395.4,139.9 395.8,139.4 396.2,139.3 396.6,140.2 397.0,138.8 397.4,138.6 397.8,139.1 398.2,140.4 398.6,138.0 399.0,140.4 399.4,138.7 399.8,138.3 400.2,140.5 400.6,139.2 401.0,138.1 401.4,139.0 401.8,140.2 402.2,140.5 402.6,139.0 403.0,139.8 403.4,140.1 403.8,138.8 404.2,139.8 404.6,139.4 405.0,139.0 405.4,139.0 405.8,139.6 406.2,139.5 406.6,139.0 407.0,139.2 407.4,140.6 407.8,139.8 408.2,140.4 408.6,140.8 409.0,140.2 409.4,141.8 409.8,139.0 410.2,140.5 410.6,139.5 411.0,141.5 411.4,141.4 411.8,138.0 412.2,139.0 412.6,140.5 413.0,140.7 413.4,140.6 413.8,139.9 414.2,140.4 414.6,140.6 415.0,140.0 415.4,141.0 415.8,138.0 416.2,140.7 416.6,139.2 417.0,141.1 417.4,140.0 417.8,139.4 418.2,140.6 418.6,139.5 419.0,139.5 419.4,138.9 419.8,140.4 420.2,140.9 420.6,141.4 421.0,140.3 421.4,141.5 421.8,140.5 422.2,140.5 422.6,141.1 423.0,141.6 423.4,140.3 423.8,140.5 424.2,140.6 424.6,140.8 425.0,140.0 425.4,141.8 425.8,140.5 426.2,141.3 426.6,140.2 427.0,141.3 427.4,141.4 427.8,140.7 428.2,142.9 428.6,141.5 429.0,142.8 429.4,142.1 429.8,140.6 430.2,140.9 430.6,141.7 431.0,141.4 431.4,141.4 431.8,141.1 432.2,139.8 432.6,141.3 433.0,139.5 433.4,141.9 433.8,140.9 434.2,140.9 434.6,141.4 435.0,141.9 435.4,140.4 435.8,140.1 436.2,140.7 436.6,139.9 437.0,140.9 437.4,143.2 437.8,140.8 438.2,142.4 438.6,140.5 439.0,142.1 439.4,141.5 439.8,141.7 440.2,142.3 440.6,143.4 441.0,142.0 441.4,141.9 441.8,140.9 442.2,142.3 442.6,141.6 443.0,142.5 443.4,141.7 443.8,143.3 444.2,139.9 444.6,141.5 445.0,142.5 445.4,141.4 445.8,141.0 446.2,141.4 446.6,140.4 447.0,141.8 447.4,143.8 447.8,142.7 448.2,140.6 448.6,140.8 449.0,141.2 449.4,142.4 449.8,140.8 450.2,140.8 450.6,142.3 451.0,142.2 451.4,141.1 451.8,140.3 452.2,139.9 452.6,140.7 453.0,139.2 453.4,141.9 453.8,140.6 454.2,141.6 454.6,142.8 455.0,142.2 455.4,140.0 455.8,141.8 456.2,142.0 456.6,140.2 457.0,140.0 457.4,140.6 457.8,139.2 458.2,141.8 458.6,138.2 459.0,139.1 459.4,139.7 459.8,139.5 460.2,139.7 460.6,139.5 461.0,138.9 461.4,139.8 461.8,136.7 462.2,138.3 462.6,137.4 463.0,137.8 463.4,137.6 463.8,136.4 464.2,136.3 464.6,137.2 465.0,136.4 465.4,135.1 465.8,136.9 466.2,136.6 466.6,133.0 467.0,133.9 467.4,135.1 467.8,133.2 468.2,132.2 468.6,131.3 469.0,130.6 469.4,130.3 469.8,129.4 470.2,129.7 470.6,128.1 471.0,127.5 471.4,126.3 471.8,126.8 472.2,125.8 472.6,126.5 473.0,127.8 473.4,127.6 473.8,128.3 474.2,128.9 474.6,129.4 475.0,130.1 475.4,130.8 475.8,132.2 476.2,131.5 476.6,133.9 477.0,133.6 477.4,133.7 477.8,134.6 478.2,135.1 478.6,136.3 479.0,136.3 479.4,138.3 479.8,137.2 480.2,136.3 480.6,137.9 481.0,137.2 481.4,139.2 481.8,140.5 482.2,140.5 482.6,139.1 483.0,139.9 483.4,142.3 483.8,141.3 484.2,141.3 484.6,142.4 485.0,143.8 485.4,143.0 485.8,142.1 486.2,142.4 486.6,142.7 487.0,141.7 487.4,141.3 487.8,142.4 488.2,141.6 488.6,142.4 489.0,142.6 489.4,144.6 489.8,141.8 490.2,142.5 490.6,142.5 491.0,143.1 491.4,143.6 491.8,142.3 492.2,142.0 492.6,141.3 493.0,142.0 493.4,143.3 493.8,142.9 494.2,141.9 494.6,142.5 495.0,142.9 495.4,143.4 495.8,142.4 496.2,142.7 496.6,141.3 497.0,141.9 497.4,144.4 497.8,141.0 498.2,142.7 498.6,143.2 499.0,142.7 499.4,142.3 499.8,142.9 500.2,143.0 500.6,142.9 501.0,141.3 501.4,142.9 501.8,142.2 502.2,142.5 502.6,143.2 503.0,143.6 503.4,143.8 503.8,142.6 504.2,143.8 504.6,144.0 505.0,144.0 505.4,144.2 505.8,142.9 506.2,142.8 506.6,143.7 507.0,141.8 507.4,143.2 507.8,142.5 508.2,142.7 508.6,141.5 509.0,142.2 509.4,143.0 509.8,143.8 510.2,143.9 510.6,142.9 511.0,142.8 511.4,142.3 511.8,143.4 512.2,142.8 512.6,143.5 513.0,144.6 513.4,143.0 513.8,141.7 514.2,142.2 514.6,141.7 515.0,141.9 515.4,144.2 515.8,143.2 516.2,141.7 516.6,143.6 517.0,144.1 517.4,142.7 517.8,142.4 518.2,142.7 518.6,143.3 519.0,143.6 519.4,144.0 519.8,144.1 520.2,144.1 520.6,144.2 521.0,143.6 521.4,141.6 521.8,142.9 522.2,143.3 522.6,142.7 523.0,143.8 523.4,142.7 523.8,142.2 524.2,144.3 524.6,143.6 525.0,143.2 525.4,143.8 525.8,143.9" stroke-width="1.7"/></g>
<g stroke="#cfac10"><polyline points="27.0,148.2 27.4,143.1 27.8,146.9 28.2,147.6 28.6,146.9 29.0,149.5 29.4,151.7 29.8,148.9 30.2,148.0 30.6,154.2 31.0,150.1 31.4,149.0 31.8,152.1 32.2,152.9 32.6,151.2 33.0,154.3 33.4,152.5 33.8,152.1 34.2,154.5 34.6,156.0 35.0,154.1 35.4,156.2 35.8,156.0 36.2,161.5 36.6,156.1 37.0,160.1 37.4,158.3 37.8,158.7 38.2,160.7 38.6,161.5 39.0,162.7 39.4,161.7 39.8,160.7 40.2,161.4 40.6,163.6 41.0,164.3 41.4,166.2 41.8,165.2 42.2,166.8 42.6,168.1 43.0,166.4 43.4,164.3 43.8,165.3 44.2,165.4 44.6,170.9 45.0,167.4 45.4,171.3 45.8,170.7 46.2,173.1 46.6,172.4 47.0,170.9 47.4,171.2 47.8,172.1 48.2,172.6 48.6,171.8 49.0,173.1 49.4,176.2 49.8,171.0 50.2,174.7 50.6,173.1 51.0,175.3 51.4,176.8 51.8,175.7 52.2,177.5 52.6,174.0 53.0,178.9 53.4,176.4 53.8,178.9 54.2,178.6 54.6,174.4 55.0,177.9 55.4,179.9 55.8,182.5 56.2,180.8 56.6,181.2 57.0,178.9 57.4,183.9 57.8,184.9 58.2,182.4 58.6,182.4 59.0,180.4 59.4,184.9 59.8,188.3 60.2,185.4 60.6,186.6 61.0,185.7 61.4,183.5 61.8,187.7 62.2,183.6 62.6,185.6 63.0,186.7 63.4,188.0 63.8,187.5 64.2,187.8 64.6,186.1 65.0,185.6 65.4,188.1 65.8,187.2 66.2,186.5 66.6,186.9 67.0,188.6 67.4,186.7 67.8,187.9 68.2,187.8 68.6,191.1 69.0,191.8 69.4,194.7 69.8,189.5 70.2,191.2 70.6,194.1 71.0,192.7 71.4,192.9 71.8,196.5 72.2,193.7 72.6,192.8 73.0,192.9 73.4,195.9 73.8,196.3 74.2,194.1 74.6,195.1 75.0,197.9 75.4,198.4 75.8,196.9 76.2,199.3 76.6,199.6 77.0,196.5 77.4,199.1 77.8,200.6 78.2,199.5 78.6,197.5 79.0,200.7 79.4,202.7 79.8,204.3 80.2,198.7 80.6,206.6 81.0,201.0 81.4,204.6 81.8,205.3 82.2,205.2 82.6,204.2 83.0,202.5 83.4,205.6 83.8,203.7 84.2,201.2 84.6,209.8 85.0,206.8 85.4,208.8 85.8,204.8 86.2,208.7 86.6,209.2 87.0,209.3 87.4,207.1 87.8,205.5 88.2,207.3 88.6,204.4 89.0,205.5 89.4,208.5 89.8,207.0 90.2,208.5 90.6,208.8 91.0,212.2 91.4,211.4 91.8,209.4 92.2,211.4 92.6,208.4 93.0,209.1 93.4,211.1 93.8,207.8 94.2,209.3 94.6,207.8 95.0,210.0 95.4,212.5 95.8,208.8 96.2,210.4 96.6,208.7 97.0,208.4 97.4,208.3 97.8,212.6 98.2,214.1 98.6,211.3 99.0,209.6 99.4,211.9 99.8,210.4 100.2,212.3 100.6,211.8 101.0,212.1 101.4,212.9 101.8,211.7 102.2,212.5 102.6,211.3 103.0,213.5 103.4,212.9 103.8,215.1 104.2,214.6 104.6,216.5 105.0,217.5 105.4,215.4 105.8,216.7 106.2,216.8 106.6,219.6 107.0,221.3 107.4,220.4 107.8,219.1 108.2,222.0 108.6,218.0 109.0,222.7 109.4,219.9 109.8,217.2 110.2,225.2 110.6,224.0 111.0,220.5 111.4,222.5 111.8,222.3 112.2,223.0 112.6,221.0 113.0,222.4 113.4,224.3 113.8,224.1 114.2,225.8 114.6,224.4 115.0,227.9 115.4,223.7 115.8,225.3 116.2,222.3 116.6,223.5 117.0,227.4 117.4,224.3 117.8,226.6 118.2,225.9 118.6,224.6 119.0,225.8 119.4,225.7 119.8,225.9 120.2,227.8 120.6,227.8 121.0,226.2 121.4,225.9 121.8,227.7 122.2,227.3 122.6,229.1 123.0,231.5 123.4,229.1 123.8,228.0 124.2,227.9 124.6,227.0 125.0,227.1 125.4,227.1 125.8,228.1 126.2,228.2 126.6,229.9 127.0,228.5 127.4,228.9 127.8,227.6 128.2,231.7 128.6,230.2 129.0,232.2 129.4,230.9 129.8,232.0 130.2,229.7 130.6,231.2 131.0,234.1 131.4,228.8 131.8,232.3 132.2,233.2 132.6,231.6 133.0,232.2 133.4,233.1 133.8,230.6 134.2,232.2 134.6,230.6 135.0,231.0 135.4,231.3 135.8,232.1 136.2,232.7 136.6,233.3 137.0,230.8 137.4,235.7 137.8,234.7 138.2,234.2 138.6,232.8 139.0,233.3 139.4,234.3 139.8,234.2 140.2,231.4 140.6,234.8 141.0,238.0 141.4,231.4 141.8,235.4 142.2,234.5 142.6,233.9 143.0,236.0 143.4,232.5 143.8,234.4 144.2,236.2 144.6,233.9 145.0,233.6 145.4,234.4 145.8,233.7 146.2,236.4 146.6,233.1 147.0,235.5 147.4,232.6 147.8,235.3 148.2,234.2 148.6,230.8 149.0,234.4 149.4,232.9 149.8,233.8 150.2,236.5 150.6,232.8 151.0,232.9 151.4,236.2 151.8,234.3 152.2,236.1 152.6,234.4 153.0,232.6 153.4,233.5 153.8,235.1 154.2,234.5 154.6,233.0 155.0,232.9 155.4,232.4 155.8,231.6 156.2,234.7 156.6,231.9 157.0,230.2 157.4,230.8 157.8,232.1 158.2,231.7 158.6,230.4 159.0,229.4 159.4,229.9 159.8,227.4 160.2,227.4 160.6,229.5 161.0,227.4 161.4,227.8 161.8,228.1 162.2,226.7 162.6,225.2 163.0,226.4 163.4,224.0 163.8,222.2 164.2,222.1" stroke-width="2.0"/><polyline points="164.2,222.1 164.6,220.8 165.0,218.7 165.4,218.2 165.8,216.7 166.2,214.2 166.6,213.9 167.0,212.2 167.4,210.4 167.8,208.0 168.2,206.5 168.6,204.5 169.0,202.3 169.4,199.6 169.8,197.8 170.2,194.7 170.6,192.3 171.0,189.9 171.4,186.6 171.8,183.7 172.2,180.9 172.6,177.4 173.0,174.2 173.4,171.0 173.8,167.8 174.2,163.8 174.6,161.1 175.0,157.8 175.4,154.9 175.8,153.8 176.2,156.0 176.6,159.1 177.0,161.8 177.4,165.3 177.8,169.1 178.2,172.5 178.6,175.8 179.0,179.1 179.4,181.6 179.8,184.3 180.2,187.5 180.6,190.5 181.0,193.9 181.4,197.3 181.8,200.1 182.2,203.6 182.6,207.3 183.0,210.3 183.4,213.4 183.8,215.6 184.2,218.1 184.6,220.5 185.0,223.7 185.4,224.6 185.8,226.3 186.2,227.6 186.6,229.1 187.0,230.9 187.4,231.7 187.8,234.2 188.2,233.6" stroke-width="1.5"/><polyline points="188.2,233.6 188.6,235.6 189.0,235.3 189.4,236.3 189.8,234.8 190.2,236.8 190.6,237.4 191.0,237.7 191.4,236.2 191.8,239.9 192.2,239.0 192.6,239.3 193.0,239.9 193.4,240.3 193.8,241.3 194.2,239.7 194.6,240.3 195.0,242.0 195.4,242.1 195.8,241.7 196.2,241.7 196.6,241.6 197.0,242.7 197.4,244.3 197.8,241.9 198.2,245.1 198.6,244.4 199.0,243.1 199.4,244.7 199.8,242.2 200.2,242.0 200.6,242.7 201.0,243.9 201.4,244.1 201.8,244.0 202.2,244.9 202.6,242.4 203.0,245.6 203.4,243.5 203.8,244.5 204.2,244.9 204.6,244.1 205.0,244.0 205.4,244.5 205.8,245.8 206.2,246.6 206.6,246.7 207.0,245.0 207.4,245.3 207.8,245.3 208.2,247.0 208.6,244.2 209.0,248.1 209.4,246.3 209.8,246.0 210.2,247.5 210.6,248.4 211.0,247.7 211.4,248.6 211.8,247.7 212.2,249.1 212.6,249.2 213.0,247.8 213.4,249.7 213.8,248.4 214.2,248.4 214.6,247.4 215.0,248.2 215.4,249.6 215.8,247.3 216.2,249.7 216.6,249.5 217.0,249.5 217.4,246.8 217.8,249.3 218.2,250.3 218.6,248.8 219.0,249.9 219.4,247.1 219.8,250.7 220.2,249.3 220.6,251.1 221.0,248.1 221.4,251.1 221.8,250.1 222.2,251.4 222.6,249.5 223.0,250.0 223.4,253.3 223.8,249.9 224.2,250.1 224.6,250.7 225.0,249.9 225.4,252.5 225.8,253.2 226.2,250.5 226.6,249.4 227.0,252.8 227.4,252.8 227.8,252.5 228.2,253.0 228.6,250.8 229.0,251.6 229.4,250.3 229.8,250.4 230.2,253.1 230.6,251.4 231.0,254.7 231.4,252.3 231.8,251.6 232.2,253.3 232.6,254.5 233.0,253.1 233.4,251.2 233.8,253.1 234.2,254.3 234.6,252.3 235.0,252.0 235.4,254.1 235.8,253.2 236.2,251.8 236.6,252.7 237.0,252.3 237.4,253.6 237.8,253.4 238.2,254.6 238.6,254.2 239.0,251.7 239.4,254.0 239.8,254.6 240.2,254.1 240.6,254.8 241.0,253.1 241.4,252.7 241.8,254.8 242.2,252.7 242.6,251.5 243.0,255.1 243.4,253.2 243.8,253.7 244.2,252.5 244.6,252.6 245.0,252.9 245.4,253.8 245.8,254.6 246.2,251.7 246.6,255.1 247.0,253.0 247.4,253.2 247.8,255.1 248.2,254.3 248.6,252.8 249.0,256.5 249.4,253.6 249.8,254.8 250.2,254.8 250.6,256.2 251.0,254.2 251.4,255.8 251.8,254.0 252.2,256.0 252.6,254.0 253.0,254.5 253.4,257.0 253.8,255.3 254.2,255.1 254.6,257.5 255.0,255.5 255.4,254.2 255.8,256.0 256.2,253.9 256.6,256.5 257.0,256.6 257.4,254.7 257.8,254.7 258.2,255.6 258.6,255.5 259.0,254.4 259.4,256.1 259.8,253.4 260.2,255.2 260.6,255.2 261.0,255.4 261.4,256.1 261.8,254.5 262.2,256.5 262.6,255.8 263.0,255.3 263.4,254.6 263.8,254.9 264.2,256.6 264.6,255.2 265.0,256.4 265.4,257.5 265.8,257.5 266.2,258.2 266.6,256.2 267.0,255.5 267.4,257.8 267.8,257.1 268.2,258.0 268.6,256.9 269.0,258.2 269.4,257.8 269.8,257.7 270.2,257.6 270.6,257.5 271.0,257.3 271.4,257.4 271.8,258.2 272.2,256.7 272.6,259.1 273.0,257.2 273.4,258.4 273.8,257.3 274.2,257.1 274.6,259.6 275.0,257.1 275.4,256.2 275.8,256.8 276.2,257.2 276.6,259.9 277.0,257.8 277.4,258.6 277.8,256.6 278.2,258.1 278.6,258.4 279.0,259.6 279.4,257.0 279.8,258.4 280.2,258.1 280.6,256.8 281.0,257.8 281.4,257.6 281.8,255.5 282.2,258.5 282.6,258.5 283.0,257.5 283.4,256.5 283.8,259.5 284.2,258.2 284.6,259.0 285.0,259.5 285.4,257.5 285.8,258.9 286.2,257.8 286.6,258.0 287.0,258.0 287.4,258.1 287.8,259.2 288.2,258.2 288.6,257.9 289.0,257.8 289.4,258.5 289.8,257.2 290.2,257.6 290.6,258.1 291.0,257.6 291.4,258.0 291.8,257.5 292.2,260.2 292.6,259.6 293.0,258.7 293.4,258.1 293.8,260.5 294.2,258.6 294.6,258.1 295.0,258.6 295.4,258.6 295.8,259.7 296.2,258.3 296.6,260.4 297.0,257.4 297.4,259.0 297.8,257.3 298.2,260.2 298.6,258.0 299.0,258.3 299.4,259.3 299.8,259.7 300.2,257.3 300.6,258.1 301.0,257.0 301.4,258.6 301.8,258.4 302.2,258.1 302.6,257.8 303.0,258.2 303.4,257.8 303.8,259.1 304.2,260.1 304.6,256.7 305.0,258.5 305.4,258.3 305.8,259.2 306.2,257.8 306.6,258.6 307.0,257.7 307.4,259.5 307.8,258.9 308.2,258.7 308.6,259.3 309.0,258.7 309.4,257.4 309.8,259.6 310.2,259.3 310.6,258.9 311.0,260.0 311.4,260.3 311.8,258.0 312.2,258.3 312.6,260.7 313.0,260.6 313.4,258.5 313.8,258.0 314.2,258.6 314.6,258.8 315.0,257.7 315.4,259.3 315.8,258.0 316.2,258.1 316.6,260.3 317.0,258.7 317.4,259.3 317.8,260.0 318.2,260.2 318.6,259.1 319.0,259.4 319.4,258.6 319.8,261.1 320.2,260.0 320.6,258.3 321.0,259.4 321.4,260.1 321.8,259.9 322.2,261.2 322.6,260.8 323.0,258.9 323.4,259.3 323.8,258.1 324.2,259.6 324.6,259.5 325.0,262.1 325.4,259.5 325.8,257.3 326.2,258.7 326.6,259.5 327.0,258.2 327.4,258.5 327.8,259.0 328.2,259.7 328.6,259.2 329.0,258.5 329.4,260.2 329.8,258.9 330.2,258.9 330.6,258.0 331.0,258.6 331.4,260.0 331.8,257.8 332.2,259.3 332.6,260.1 333.0,259.0 333.4,259.6 333.8,258.3 334.2,260.7 334.6,260.5 335.0,259.6 335.4,257.7 335.8,258.4 336.2,260.4 336.6,261.1 337.0,259.7 337.4,260.6 337.8,258.8 338.2,259.2 338.6,259.4 339.0,259.8 339.4,257.9 339.8,260.3 340.2,260.7 340.6,258.3 341.0,258.1 341.4,259.7 341.8,258.7 342.2,257.0 342.6,260.1 343.0,259.4 343.4,258.8 343.8,261.3 344.2,259.3 344.6,258.4 345.0,259.2 345.4,258.0 345.8,258.3 346.2,259.3 346.6,258.4 347.0,258.4 347.4,260.4 347.8,259.5 348.2,259.4 348.6,259.1 349.0,259.0 349.4,259.8 349.8,258.3 350.2,260.1 350.6,257.3 351.0,257.9 351.4,256.7 351.8,257.6 352.2,258.4 352.6,259.2 353.0,257.1 353.4,257.6 353.8,257.2 354.2,256.7 354.6,256.2 355.0,257.3 355.4,255.5 355.8,257.1 356.2,256.9 356.6,256.1 357.0,255.6 357.4,255.1 357.8,258.0 358.2,254.8 358.6,257.3 359.0,256.2 359.4,255.1 359.8,254.1 360.2,255.9 360.6,256.3 361.0,253.5 361.4,253.8 361.8,254.6 362.2,253.5 362.6,254.3 363.0,251.6 363.4,251.8 363.8,249.8 364.2,251.7 364.6,248.8 365.0,247.0 365.4,247.9 365.8,247.2 366.2,248.1 366.6,245.7 367.0,245.1 367.4,244.6 367.8,244.3 368.2,242.3 368.6,242.2 369.0,241.0 369.4,239.7 369.8,239.4 370.2,238.8 370.6,237.7 371.0,239.6 371.4,237.2 371.8,239.8 372.2,240.0 372.6,239.7 373.0,239.8 373.4,241.0 373.8,242.2 374.2,243.2 374.6,243.7 375.0,245.0 375.4,244.6 375.8,245.9 376.2,245.0 376.6,247.5 377.0,247.6 377.4,247.7 377.8,249.6 378.2,249.8 378.6,247.5 379.0,250.4 379.4,249.7 379.8,252.3 380.2,254.1 380.6,252.0 381.0,253.0 381.4,253.2 381.8,254.1 382.2,254.8 382.6,255.7 383.0,254.0 383.4,256.7 383.8,254.8 384.2,256.2 384.6,257.2 385.0,257.1 385.4,255.8 385.8,256.3 386.2,256.7 386.6,257.2 387.0,258.5 387.4,256.4 387.8,258.2 388.2,258.5 388.6,258.6 389.0,258.6 389.4,259.7 389.8,258.9 390.2,259.3 390.6,259.1 391.0,260.3 391.4,256.9 391.8,260.0 392.2,258.6 392.6,258.6 393.0,258.0 393.4,257.2 393.8,258.6 394.2,258.3 394.6,259.5 395.0,257.6 395.4,260.4 395.8,259.3 396.2,258.9 396.6,258.5 397.0,258.4 397.4,258.1 397.8,258.7 398.2,259.2 398.6,259.1 399.0,257.9 399.4,259.0 399.8,258.4 400.2,259.4 400.6,261.0 401.0,259.9 401.4,259.0 401.8,257.8 402.2,258.0 402.6,257.8 403.0,260.1 403.4,258.7 403.8,259.5 404.2,258.8 404.6,259.5 405.0,260.7 405.4,258.8 405.8,259.2 406.2,258.7 406.6,260.3 407.0,258.5 407.4,258.5 407.8,258.2 408.2,258.2 408.6,260.0 409.0,262.0 409.4,258.7 409.8,260.5 410.2,259.8 410.6,258.6 411.0,259.4 411.4,259.4 411.8,259.0 412.2,261.5 412.6,257.9 413.0,260.0 413.4,260.0 413.8,259.2 414.2,259.9 414.6,260.6 415.0,259.9 415.4,260.1 415.8,260.4 416.2,257.9 416.6,261.2 417.0,261.9 417.4,260.7 417.8,260.8 418.2,258.5 418.6,259.7 419.0,259.1 419.4,259.3 419.8,260.8 420.2,259.1 420.6,259.8 421.0,258.1 421.4,259.8 421.8,260.0 422.2,259.3 422.6,259.3 423.0,261.7 423.4,258.8 423.8,259.0 424.2,259.2 424.6,261.1 425.0,261.9 425.4,260.3 425.8,259.4 426.2,259.6 426.6,261.0 427.0,259.2 427.4,261.4 427.8,261.4 428.2,260.2 428.6,260.7 429.0,260.8 429.4,261.6 429.8,259.2 430.2,261.3 430.6,259.9 431.0,259.6 431.4,260.4 431.8,260.2 432.2,259.5 432.6,259.0 433.0,259.6 433.4,261.9 433.8,262.4 434.2,261.3 434.6,261.8 435.0,260.3 435.4,260.8 435.8,261.2 436.2,260.0 436.6,260.1 437.0,261.2 437.4,260.8 437.8,260.2 438.2,261.6 438.6,261.0 439.0,262.2 439.4,261.3 439.8,261.0 440.2,261.4 440.6,261.1 441.0,260.7 441.4,260.9 441.8,262.0 442.2,261.9 442.6,262.4 443.0,259.7 443.4,260.9 443.8,260.8 444.2,261.3 444.6,260.7 445.0,260.7 445.4,261.8 445.8,261.2 446.2,260.0 446.6,262.2 447.0,261.9 447.4,260.4 447.8,261.7 448.2,260.2 448.6,261.9 449.0,260.6 449.4,260.0 449.8,260.4 450.2,260.0 450.6,260.8 451.0,260.7 451.4,260.6 451.8,260.0 452.2,257.1 452.6,260.5 453.0,258.6 453.4,260.5 453.8,261.3 454.2,260.4 454.6,259.8 455.0,259.9 455.4,259.8 455.8,259.4 456.2,259.2 456.6,258.8 457.0,260.6 457.4,259.4 457.8,260.1 458.2,258.9 458.6,259.1 459.0,258.7 459.4,259.1 459.8,259.3 460.2,258.6 460.6,257.6 461.0,257.3 461.4,259.3 461.8,257.4 462.2,257.1 462.6,258.4 463.0,257.8 463.4,257.0 463.8,255.9 464.2,257.9 464.6,255.8 465.0,255.5 465.4,254.5 465.8,253.1 466.2,252.7 466.6,253.8 467.0,253.3 467.4,252.4 467.8,251.2 468.2,250.6 468.6,251.1 469.0,249.7 469.4,251.0 469.8,250.7 470.2,251.6 470.6,249.5 471.0,247.9 471.4,247.4 471.8,244.9 472.2,247.5 472.6,248.0 473.0,249.2 473.4,249.1 473.8,249.4 474.2,249.4 474.6,250.2 475.0,251.3 475.4,249.6 475.8,250.4 476.2,250.0 476.6,252.9 477.0,253.0 477.4,253.0 477.8,251.8 478.2,253.3 478.6,253.4 479.0,254.1 479.4,254.3 479.8,255.3 480.2,255.0 480.6,256.5 481.0,256.3 481.4,256.3 481.8,256.7 482.2,256.8 482.6,258.2 483.0,257.5 483.4,258.3 483.8,258.0 484.2,257.4 484.6,259.7 485.0,258.2 485.4,260.0 485.8,259.9 486.2,258.2 486.6,258.9 487.0,259.4 487.4,259.3 487.8,259.0 488.2,260.8 488.6,260.0 489.0,260.7 489.4,260.0 489.8,260.7 490.2,259.9 490.6,260.6 491.0,261.2 491.4,260.8 491.8,260.4 492.2,259.9 492.6,261.1 493.0,261.3 493.4,260.8 493.8,260.4 494.2,261.7 494.6,263.5 495.0,261.0 495.4,261.7 495.8,261.7 496.2,259.2 496.6,261.6 497.0,261.0 497.4,262.9 497.8,261.5 498.2,261.1 498.6,261.6 499.0,262.0 499.4,261.4 499.8,261.9 500.2,260.8 500.6,261.9 501.0,262.8 501.4,264.0 501.8,262.9 502.2,262.6 502.6,263.5 503.0,263.4 503.4,264.0 503.8,263.6 504.2,262.6 504.6,263.0 505.0,263.0 505.4,263.2 505.8,263.2 506.2,262.3 506.6,261.2 507.0,262.6 507.4,261.4 507.8,263.3 508.2,263.3 508.6,261.8 509.0,264.0 509.4,264.1 509.8,263.5 510.2,264.9 510.6,265.1 511.0,262.4 511.4,264.4 511.8,263.8 512.2,263.8 512.6,264.3 513.0,262.8 513.4,262.9 513.8,262.7 514.2,262.8 514.6,263.4 515.0,262.2 515.4,262.6 515.8,264.0 516.2,263.5 516.6,263.9 517.0,261.9 517.4,262.8 517.8,263.1 518.2,263.6 518.6,263.0 519.0,264.4 519.4,263.5 519.8,263.6 520.2,263.6 520.6,264.2 521.0,263.2 521.4,264.6 521.8,264.0 522.2,263.7 522.6,263.6 523.0,264.1 523.4,264.5 523.8,264.4 524.2,263.9 524.6,264.4 525.0,263.7 525.4,264.7 525.8,263.6" stroke-width="2.0"/></g>
<polyline points="27.0,239.6 27.5,246.5 28.0,244.5 28.5,242.6 29.0,244.8 29.5,244.0 30.0,250.0 30.5,247.5 31.0,244.1 31.5,248.5 32.0,247.3 32.5,251.9 33.0,247.1 33.5,245.5 34.0,250.1 34.5,249.9 35.0,250.3 35.5,247.8 36.0,252.9 36.5,255.6 37.0,249.9 37.5,255.9 38.0,253.5 38.5,259.0 39.0,256.4 39.5,256.0 40.0,258.8 40.5,258.6 41.0,257.6 41.5,260.4 42.0,259.4 42.5,258.4 43.0,265.0 43.5,262.4 44.0,262.9 44.5,265.2 45.0,263.1 45.5,264.2 46.0,266.2 46.5,266.8 47.0,268.4 47.5,270.8 48.0,268.7 48.5,270.9 49.0,271.6 49.5,269.3 50.0,272.1 50.5,270.7 51.0,274.6 51.5,274.1 52.0,274.0 52.5,272.5 53.0,275.5 53.5,274.8 54.0,277.8 54.5,277.2 55.0,276.9 55.5,280.3 56.0,280.7 56.5,279.3 57.0,282.7 57.5,281.0 58.0,281.5 58.5,282.7 59.0,281.8 59.5,282.8 60.0,283.7 60.5,286.9 61.0,287.3 61.5,284.8 62.0,288.4 62.5,286.0 63.0,287.1 63.5,288.4 64.0,287.8 64.5,291.7 65.0,288.5 65.5,286.6 66.0,291.1 66.5,288.8 67.0,289.4 67.5,285.5 68.0,292.4 68.5,292.5 69.0,292.9 69.5,293.7 70.0,295.2 70.5,292.9 71.0,294.9 71.5,292.7 72.0,293.7 72.5,296.4 73.0,295.8 73.5,293.5 74.0,296.6 74.5,296.1 75.0,295.6 75.5,298.0 76.0,297.1 76.5,295.7 77.0,296.9 77.5,301.8 78.0,297.2 78.5,300.3 79.0,301.3 79.5,301.8 80.0,299.2 80.5,301.0 81.0,302.1 81.5,303.5 82.0,301.5 82.5,300.9 83.0,304.7 83.5,305.1 84.0,304.2 84.5,302.9 85.0,304.8 85.5,304.5 86.0,305.9 86.5,302.8 87.0,305.2 87.5,305.0 88.0,303.6 88.5,305.9 89.0,305.8 89.5,305.2 90.0,306.6 90.5,303.9 91.0,306.1 91.5,307.0 92.0,306.8 92.5,308.1 93.0,304.6 93.5,304.2 94.0,307.0 94.5,307.5 95.0,310.1 95.5,307.9 96.0,305.6 96.5,308.3 97.0,305.9 97.5,305.0 98.0,311.4 98.5,308.0 99.0,308.8 99.5,308.7 100.0,310.7 100.5,308.7 101.0,310.4 101.5,307.8 102.0,307.9 102.5,312.4 103.0,313.1 103.5,312.6 104.0,312.9 104.5,313.6 105.0,313.0 105.5,316.7 106.0,315.9 106.5,316.1 107.0,316.3 107.5,317.7 108.0,317.2 108.5,317.9 109.0,315.5 109.5,318.2 110.0,321.0 110.5,317.3 111.0,318.2 111.5,320.0 112.0,320.3 112.5,320.1 113.0,317.1 113.5,320.5 114.0,318.3 114.5,319.1 115.0,321.3 115.5,320.3 116.0,322.2 116.5,325.8 117.0,322.6 117.5,322.8 118.0,320.7 118.5,321.3 119.0,320.9 119.5,321.9 120.0,321.3 120.5,322.2 121.0,323.0 121.5,322.1 122.0,321.7 122.5,322.0 123.0,324.8 123.5,324.5 124.0,326.0 124.5,326.2 125.0,324.5 125.5,326.1 126.0,323.4 126.5,328.8 127.0,327.5 127.5,325.7 128.0,324.6 128.5,326.9 129.0,324.0 129.5,325.7 130.0,328.0 130.5,327.3 131.0,326.7 131.5,328.9 132.0,326.4 132.5,328.5 133.0,327.6 133.5,327.3 134.0,329.4 134.5,327.6 135.0,331.8 135.5,328.6 136.0,332.3 136.5,328.3 137.0,330.8 137.5,328.5 138.0,328.5 138.5,330.7 139.0,331.6 139.5,329.1 140.0,332.6 140.5,330.1 141.0,331.5 141.5,332.0 142.0,332.4 142.5,329.3 143.0,334.1 143.5,332.8 144.0,331.6 144.5,330.9 145.0,330.2 145.5,330.7 146.0,333.4 146.5,332.3 147.0,331.4 147.5,332.3 148.0,335.2 148.5,332.7 149.0,332.4 149.5,335.1 150.0,333.9 150.5,333.4 151.0,332.6 151.5,331.3 152.0,331.9 152.5,332.8 153.0,333.2 153.5,333.9 154.0,334.2 154.5,333.8 155.0,333.8 155.5,332.1 156.0,330.5 156.5,332.4 157.0,331.7 157.5,331.8 158.0,332.0 158.5,330.6 159.0,330.5 159.5,331.5 160.0,331.4 160.5,330.1 161.0,331.2 161.5,329.9 162.0,328.6 162.5,329.5 163.0,331.4 163.5,327.8 164.0,329.7 164.5,329.5 165.0,329.2 165.5,325.9 166.0,328.8 166.5,326.0 167.0,325.0 167.5,324.4 168.0,324.5 168.5,323.1 169.0,321.8 169.5,321.8 170.0,318.9 170.5,317.2 171.0,317.2 171.5,315.3 172.0,313.6 172.5,310.4 173.0,310.5 173.5,309.1 174.0,309.7 174.5,305.8 175.0,307.7 175.5,307.5 176.0,306.6 176.5,308.4 177.0,311.0 177.5,311.1 178.0,312.8 178.5,315.7 179.0,317.5 179.5,319.3 180.0,320.0 180.5,322.2 181.0,324.6 181.5,324.9 182.0,326.3 182.5,328.9 183.0,330.9 183.5,329.8 184.0,329.3 184.5,331.3 185.0,332.5 185.5,334.2 186.0,335.7 186.5,335.6 187.0,335.6 187.5,337.1 188.0,336.2 188.5,337.7 189.0,337.3 189.5,341.6 190.0,339.7 190.5,338.0 191.0,338.1 191.5,339.0 192.0,337.8 192.5,339.1 193.0,339.3 193.5,341.4 194.0,340.1 194.5,339.8 195.0,339.4 195.5,339.8 196.0,341.3 196.5,341.4 197.0,343.2 197.5,341.3 198.0,343.5 198.5,342.7 199.0,342.6 199.5,340.4 200.0,341.5 200.5,344.0 201.0,345.0 201.5,343.8 202.0,344.6 202.5,343.4 203.0,343.6 203.5,343.4 204.0,345.5 204.5,344.9 205.0,344.4 205.5,344.4 206.0,345.6 206.5,345.4 207.0,344.2 207.5,347.3 208.0,345.7 208.5,345.6 209.0,347.4 209.5,347.0 210.0,345.8 210.5,346.6 211.0,344.9 211.5,345.5 212.0,343.7 212.5,347.9 213.0,344.4 213.5,347.4 214.0,345.8 214.5,345.7 215.0,346.7 215.5,347.4 216.0,347.9 216.5,349.3 217.0,347.8 217.5,348.5 218.0,346.9 218.5,348.5 219.0,348.0 219.5,347.4 220.0,347.9 220.5,348.0 221.0,348.4 221.5,348.8 222.0,347.9 222.5,347.7 223.0,349.5 223.5,346.8 224.0,348.2 224.5,350.8 225.0,346.0 225.5,348.4 226.0,350.1 226.5,347.6 227.0,352.5 227.5,346.7 228.0,351.4 228.5,351.6 229.0,351.0 229.5,349.8 230.0,350.6 230.5,349.3 231.0,351.3 231.5,349.3 232.0,350.3 232.5,351.8 233.0,349.6 233.5,350.5 234.0,351.2 234.5,349.6 235.0,352.5 235.5,351.7 236.0,349.7 236.5,351.5 237.0,350.8 237.5,351.0 238.0,351.9 238.5,351.2 239.0,353.1 239.5,351.4 240.0,353.4 240.5,352.3 241.0,353.4 241.5,352.0 242.0,352.1 242.5,351.5 243.0,353.4 243.5,353.9 244.0,355.2 244.5,354.4 245.0,353.2 245.5,352.8 246.0,353.4 246.5,353.0 247.0,354.6 247.5,354.0 248.0,352.1 248.5,352.2 249.0,354.4 249.5,353.3 250.0,352.6 250.5,354.2 251.0,352.4 251.5,352.5 252.0,352.3 252.5,350.6 253.0,353.7 253.5,351.4 254.0,352.1 254.5,351.9 255.0,353.4 255.5,352.6 256.0,352.6 256.5,350.8 257.0,352.5 257.5,351.0 258.0,352.9 258.5,353.0 259.0,352.6 259.5,354.9 260.0,353.3 260.5,353.4 261.0,353.0 261.5,352.7 262.0,354.0 262.5,354.2 263.0,351.8 263.5,354.4 264.0,353.9 264.5,354.5 265.0,354.0 265.5,352.3 266.0,352.5 266.5,355.8 267.0,354.2 267.5,352.5 268.0,354.5 268.5,353.8 269.0,352.3 269.5,351.9 270.0,352.7 270.5,354.7 271.0,354.5 271.5,354.3 272.0,354.9 272.5,355.3 273.0,352.5 273.5,354.4 274.0,353.9 274.5,353.6 275.0,354.3 275.5,354.8 276.0,354.7 276.5,353.5 277.0,354.6 277.5,357.2 278.0,354.0 278.5,353.4 279.0,355.5 279.5,355.9 280.0,355.8 280.5,354.2 281.0,356.4 281.5,354.6 282.0,354.3 282.5,354.9 283.0,355.4 283.5,356.3 284.0,356.3 284.5,355.6 285.0,356.6 285.5,355.8 286.0,356.7 286.5,354.3 287.0,354.2 287.5,356.6 288.0,354.4 288.5,355.6 289.0,355.8 289.5,355.5 290.0,355.5 290.5,357.5 291.0,353.5 291.5,357.0 292.0,358.5 292.5,356.2 293.0,356.2 293.5,356.9 294.0,358.1 294.5,355.0 295.0,356.4 295.5,356.1 296.0,356.9 296.5,356.5 297.0,357.1 297.5,356.0 298.0,356.5 298.5,355.8 299.0,355.8 299.5,356.4 300.0,356.4 300.5,355.4 301.0,358.2 301.5,356.5 302.0,355.2 302.5,357.8 303.0,355.9 303.5,357.2 304.0,356.7 304.5,357.0 305.0,356.9 305.5,356.2 306.0,356.8 306.5,358.9 307.0,354.6 307.5,356.9 308.0,357.3 308.5,355.9 309.0,355.6 309.5,359.2 310.0,356.6 310.5,359.1 311.0,357.6 311.5,357.2 312.0,357.6 312.5,357.8 313.0,358.3 313.5,357.6 314.0,357.3 314.5,357.4 315.0,358.6 315.5,358.1 316.0,356.3 316.5,356.7 317.0,357.7 317.5,356.8 318.0,357.0 318.5,356.5 319.0,357.2 319.5,357.9 320.0,358.5 320.5,357.6 321.0,359.6 321.5,357.5 322.0,360.8 322.5,358.6 323.0,358.2 323.5,357.2 324.0,354.9 324.5,357.6 325.0,357.9 325.5,359.7 326.0,356.4 326.5,359.7 327.0,357.6 327.5,358.6 328.0,355.4 328.5,358.1 329.0,357.6 329.5,358.7 330.0,358.1 330.5,356.9 331.0,359.0 331.5,358.8 332.0,358.7 332.5,359.1 333.0,359.2 333.5,358.2 334.0,356.9 334.5,356.9 335.0,359.6 335.5,359.0 336.0,358.4 336.5,357.9 337.0,358.4 337.5,358.4 338.0,358.0 338.5,357.7 339.0,360.5 339.5,358.6 340.0,357.8 340.5,357.1 341.0,357.7 341.5,359.1 342.0,359.1 342.5,358.2 343.0,358.4 343.5,358.0 344.0,357.2 344.5,359.6 345.0,358.6 345.5,360.7 346.0,357.5 346.5,358.1 347.0,359.0 347.5,357.9 348.0,356.8 348.5,357.2 349.0,358.2 349.5,358.4 350.0,357.9 350.5,358.9 351.0,358.9 351.5,358.2 352.0,357.8 352.5,357.5 353.0,358.2 353.5,358.4 354.0,357.5 354.5,357.8 355.0,356.9 355.5,355.8 356.0,356.0 356.5,357.6 357.0,357.2 357.5,358.1 358.0,356.5 358.5,357.1 359.0,357.4 359.5,356.8 360.0,355.1 360.5,355.3 361.0,355.4 361.5,354.2 362.0,355.3 362.5,355.6 363.0,354.0 363.5,356.1 364.0,353.7 364.5,353.6 365.0,353.3 365.5,352.5 366.0,353.2 366.5,352.5 367.0,353.7 367.5,352.4 368.0,352.0 368.5,351.0 369.0,349.6 369.5,350.6 370.0,349.7 370.5,351.3 371.0,350.4 371.5,352.0 372.0,351.2 372.5,351.4 373.0,351.1 373.5,351.3 374.0,351.9 374.5,352.4 375.0,351.2 375.5,352.6 376.0,354.9 376.5,352.7 377.0,352.8 377.5,352.7 378.0,352.3 378.5,354.9 379.0,354.2 379.5,354.7 380.0,356.4 380.5,357.3 381.0,354.4 381.5,356.5 382.0,356.4 382.5,356.5 383.0,356.8 383.5,356.6 384.0,358.3 384.5,357.6 385.0,357.5 385.5,358.5 386.0,358.2 386.5,357.9 387.0,357.9 387.5,359.3 388.0,358.2 388.5,357.7 389.0,357.0 389.5,357.6 390.0,357.0 390.5,358.1 391.0,358.3 391.5,356.2 392.0,358.2 392.5,358.8 393.0,358.4 393.5,357.4 394.0,359.5 394.5,357.7 395.0,357.3 395.5,357.5 396.0,358.5 396.5,359.4 397.0,359.6 397.5,358.8 398.0,357.5 398.5,358.0 399.0,357.8 399.5,358.4 400.0,356.9 400.5,358.7 401.0,359.2 401.5,358.5 402.0,359.0 402.5,357.7 403.0,357.2 403.5,358.0 404.0,359.7 404.5,359.5 405.0,358.1 405.5,359.7 406.0,358.3 406.5,360.0 407.0,359.0 407.5,358.1 408.0,359.3 408.5,357.8 409.0,357.6 409.5,357.2 410.0,358.7 410.5,358.4 411.0,358.4 411.5,358.1 412.0,359.8 412.5,358.1 413.0,357.8 413.5,359.6 414.0,359.8 414.5,358.8 415.0,356.8 415.5,357.9 416.0,359.0 416.5,358.4 417.0,359.8 417.5,357.1 418.0,359.0 418.5,357.8 419.0,359.6 419.5,358.3 420.0,359.4 420.5,357.8 421.0,357.1 421.5,357.4 422.0,357.9 422.5,357.5 423.0,359.6 423.5,359.7 424.0,358.8 424.5,357.6 425.0,358.5 425.5,358.0 426.0,360.0 426.5,359.0 427.0,359.2 427.5,358.4 428.0,357.0 428.5,358.2 429.0,357.9 429.5,359.3 430.0,359.1 430.5,358.3 431.0,358.7 431.5,360.6 432.0,358.3 432.5,358.4 433.0,359.1 433.5,358.7 434.0,358.9 434.5,359.9 435.0,361.0 435.5,357.8 436.0,359.5 436.5,359.5 437.0,359.5 437.5,359.4 438.0,359.3 438.5,360.5 439.0,359.2 439.5,359.5 440.0,359.6 440.5,359.7 441.0,359.4 441.5,360.5 442.0,359.6 442.5,359.7 443.0,359.5 443.5,358.7 444.0,358.8 444.5,358.6 445.0,359.7 445.5,358.9 446.0,358.5 446.5,359.7 447.0,360.0 447.5,357.9 448.0,361.0 448.5,359.5 449.0,359.3 449.5,360.3 450.0,359.4 450.5,358.8 451.0,361.3 451.5,358.3 452.0,359.2 452.5,360.0 453.0,358.2 453.5,359.1 454.0,359.5 454.5,361.3 455.0,358.3 455.5,359.0 456.0,359.6 456.5,359.0 457.0,357.8 457.5,359.2 458.0,358.8 458.5,359.0 459.0,359.5 459.5,359.3 460.0,358.6 460.5,358.4 461.0,357.0 461.5,357.7 462.0,357.8 462.5,357.1 463.0,357.4 463.5,356.4 464.0,358.4 464.5,358.8 465.0,356.3 465.5,356.8 466.0,355.9 466.5,357.0 467.0,356.0 467.5,355.4 468.0,354.9 468.5,355.0 469.0,353.7 469.5,355.0 470.0,353.6 470.5,354.6 471.0,354.2 471.5,355.0 472.0,354.0 472.5,355.0 473.0,353.4 473.5,354.9 474.0,354.4 474.5,355.0 475.0,355.1 475.5,356.1 476.0,353.8 476.5,356.2 477.0,354.9 477.5,357.5 478.0,355.0 478.5,356.1 479.0,355.7 479.5,358.9 480.0,356.5 480.5,357.9 481.0,357.4 481.5,356.5 482.0,357.9 482.5,358.9 483.0,358.3 483.5,359.5 484.0,358.4 484.5,358.9 485.0,358.7 485.5,359.4 486.0,360.9 486.5,359.7 487.0,359.6 487.5,359.0 488.0,359.0 488.5,361.1 489.0,358.9 489.5,359.1 490.0,359.9 490.5,359.7 491.0,361.9 491.5,358.1 492.0,360.6 492.5,361.0 493.0,359.4 493.5,359.9 494.0,360.9 494.5,362.1 495.0,359.9 495.5,359.3 496.0,361.7 496.5,362.2 497.0,360.6 497.5,358.9 498.0,362.2 498.5,360.8 499.0,362.0 499.5,361.0 500.0,360.7 500.5,360.6 501.0,362.3 501.5,362.3 502.0,359.1 502.5,360.2 503.0,362.6 503.5,360.7 504.0,359.8 504.5,361.0 505.0,360.9 505.5,360.9 506.0,360.6 506.5,360.7 507.0,360.6 507.5,361.3 508.0,360.3 508.5,360.7 509.0,360.9 509.5,362.2 510.0,361.3 510.5,360.9 511.0,361.5 511.5,361.4 512.0,362.0 512.5,361.4 513.0,362.6 513.5,362.2 514.0,361.0 514.5,360.6 515.0,361.8 515.5,361.5 516.0,360.9 516.5,359.7 517.0,359.4 517.5,361.3 518.0,361.7 518.5,361.7 519.0,359.9 519.5,361.9 520.0,360.5 520.5,361.3 521.0,361.4 521.5,360.3 522.0,360.5 522.5,359.2 523.0,360.2 523.5,359.4 524.0,361.4 524.5,361.1 525.0,361.8 525.5,361.3 526.0,360.4" stroke="#0a0a0a" stroke-width="2.1"/>
</g>
<!-- tick labels -->
<g font-size="20" text-anchor="middle">
<text x="26.7" y="383.8">20</text>
<text x="151.2" y="383.8">40</text>
<text x="276" y="383.8">60</text>
<text x="401" y="383.8">80</text>
<text x="526.5" y="383.8">100</text>
<text x="245" y="406.5" text-anchor="start">2θ<tspan dx="1.2">, deg.</tspan></text>
<text transform="translate(18.0 187.4) rotate(-90)" letter-spacing="0.2" stroke="#111" stroke-width="0.25">Intensity, a.u.</text>
</g>
<g font-size="20">
<text x="223.8" y="80.8" style="fill:#8a2c18">T <tspan dy="2.9" dx="-0.6" font-size="22">=</tspan><tspan dy="-2.9" dx="0.2"> 1450 </tspan><tspan font-size="14.5" dy="-6" dx="-1.2">o</tspan><tspan dy="6" dx="0.3">C</tspan></text>
<text x="223.8" y="205.2" style="fill:#c2a528">T <tspan dy="2.9" dx="-0.6" font-size="22">=</tspan><tspan dy="-2.9" dx="0.2"> 1250 </tspan><tspan font-size="14.5" dy="-6" dx="-1.2">o</tspan><tspan dy="6" dx="0.3">C</tspan></text>
<text x="253.6" y="309.8">initial</text>
</g>
<g font-size="15.2">
<text x="151.5" y="283">D (111)</text>
<text x="346.7" y="330.2">D (220)</text>
<text x="446.7" y="343.2">D (311)</text>
</g>
</svg>
</body></html>
